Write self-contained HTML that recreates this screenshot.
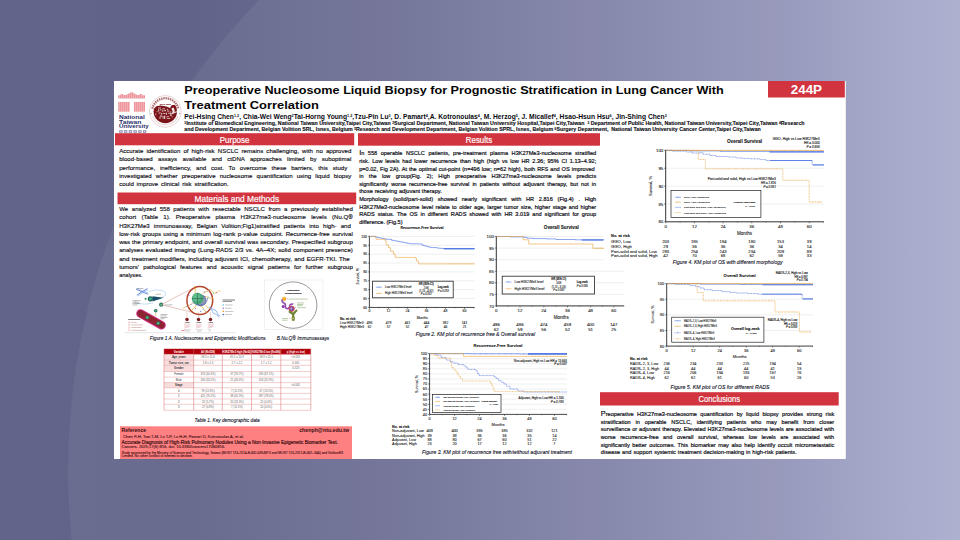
<!DOCTYPE html>
<html><head><meta charset="utf-8"><title>Poster 244P</title>
<style>
html,body{margin:0;padding:0;}
body{width:960px;height:540px;overflow:hidden;position:relative;font-family:"Liberation Sans", sans-serif;
background:linear-gradient(90deg,rgb(98,100,138) 0%,rgb(97,99,137) 20%,rgb(110,112,150) 41.7%,rgb(129,131,168) 62.5%,rgb(148,151,187) 83%,rgb(170,174,207) 100%);}
#bgsvg,#fg{position:absolute;left:0;top:0;}
#poster{position:absolute;left:114px;top:81px;width:732px;height:378px;background:#fff;
border-right:1.2px solid #ececec;box-sizing:border-box;}
svg text{font-family:"Liberation Sans", sans-serif;}
</style></head>
<body>
<svg id="bgsvg" width="960" height="540" viewBox="0 0 960 540">
<circle cx="742" cy="470" r="674" fill="#ffffff" fill-opacity="0.055"/>
</svg>
<div id="poster"></div>

<svg id="fg" width="960" height="540" viewBox="0 0 960 540">

<defs>
<pattern id="stripe" width="2" height="4" patternUnits="userSpaceOnUse">
<rect width="2" height="4" fill="#f2afb4"/><rect width="1" height="4" fill="#ec959c"/>
</pattern>
</defs>
<path d="M118.2 98.5V95.2H120.6V94H123.2V95H126L131.6 92L137.2 95H139.6V94H142.2V95.2H145V98.5Z" fill="url(#stripe)"/>
<rect x="118.2" y="101.9" width="11.5" height="9.8" fill="url(#stripe)"/>
<rect x="133.9" y="101.9" width="11.1" height="9.8" fill="url(#stripe)"/>
<text x="119.00" y="119.20" font-size="5.3" text-anchor="start" fill="#2a2d6b" font-weight="bold" textLength="25.80" lengthAdjust="spacingAndGlyphs" >National</text>
<text x="119.00" y="123.70" font-size="5.3" text-anchor="start" fill="#2a2d6b" font-weight="bold" textLength="22.40" lengthAdjust="spacingAndGlyphs" >Taiwan</text>
<text x="119.00" y="128.40" font-size="5.3" text-anchor="start" fill="#2a2d6b" font-weight="bold" textLength="29.60" lengthAdjust="spacingAndGlyphs" >University</text>
<rect x="119.20" y="130.2" width="3.4" height="2.6" fill="#2a2d6b" fill-opacity="0.55"/>
<rect x="120.10" y="130.9" width="1.6" height="1.2" fill="#fff" fill-opacity="0.6"/>
<rect x="123.95" y="130.2" width="3.4" height="2.6" fill="#2a2d6b" fill-opacity="0.55"/>
<rect x="124.85" y="130.9" width="1.6" height="1.2" fill="#fff" fill-opacity="0.6"/>
<rect x="128.70" y="130.2" width="3.4" height="2.6" fill="#2a2d6b" fill-opacity="0.55"/>
<rect x="129.60" y="130.9" width="1.6" height="1.2" fill="#fff" fill-opacity="0.6"/>
<rect x="133.45" y="130.2" width="3.4" height="2.6" fill="#2a2d6b" fill-opacity="0.55"/>
<rect x="134.35" y="130.9" width="1.6" height="1.2" fill="#fff" fill-opacity="0.6"/>
<rect x="138.20" y="130.2" width="3.4" height="2.6" fill="#2a2d6b" fill-opacity="0.55"/>
<rect x="139.10" y="130.9" width="1.6" height="1.2" fill="#fff" fill-opacity="0.6"/>
<rect x="142.95" y="130.2" width="3.4" height="2.6" fill="#2a2d6b" fill-opacity="0.55"/>
<rect x="143.85" y="130.9" width="1.6" height="1.2" fill="#fff" fill-opacity="0.6"/>
<circle cx="165.3" cy="111.4" r="15.9" fill="#fff" stroke="#7a1418" stroke-width="0.4" stroke-opacity="0.45"/>
<path d="M152.39 108.66A13.2 13.2 0 0 1 178.21 108.66" fill="none" stroke="#7a1418" stroke-width="2.3" stroke-dasharray="1.55 0.7" stroke-opacity="0.6"/>
<path d="M177.89 115.98A13.4 13.4 0 0 1 152.71 115.98" fill="none" stroke="#7a1418" stroke-width="1.1" stroke-dasharray="0.7 0.5" stroke-opacity="0.3"/>
<circle cx="151.0" cy="113.60000000000001" r="0.5" fill="#7a1418" fill-opacity="0.7"/><circle cx="179.60000000000002" cy="113.60000000000001" r="0.5" fill="#7a1418" fill-opacity="0.7"/>
<clipPath id="sealclip"><circle cx="165.3" cy="111.60000000000001" r="11.7"/></clipPath>
<g clip-path="url(#sealclip)"><path d="M150 109.5 L154.5 108.2 L156.2 106.2 L160.5 105.6 L166.5 106.4 L170 108 L171.6 105.2 L174.6 104.8 L177.5 106.5 L180 108 V126 H150Z" fill="#7a1418"/><rect x="158.0" y="107.6" width="3.0" height="0.8" fill="#fff" fill-opacity="0.85"/><rect x="158.2" y="109.2" width="1.0" height="2.4" fill="#fff" fill-opacity="0.8"/><rect x="160.0" y="109.4" width="1.6" height="1.0" fill="#fff" fill-opacity="0.8"/><rect x="162.4" y="108.4" width="2.6" height="0.9" fill="#fff" fill-opacity="0.85"/><rect x="162.2" y="110.2" width="1.2" height="1.6" fill="#fff" fill-opacity="0.75"/><rect x="164.4" y="110.0" width="1.6" height="1.2" fill="#fff" fill-opacity="0.8"/><rect x="166.8" y="108.8" width="1.4" height="1.0" fill="#fff" fill-opacity="0.7"/><rect x="167.0" y="110.6" width="2.4" height="0.9" fill="#fff" fill-opacity="0.8"/><rect x="158.6" y="112.6" width="2.0" height="0.9" fill="#fff" fill-opacity="0.8"/><rect x="161.2" y="112.8" width="1.0" height="2.0" fill="#fff" fill-opacity="0.75"/><rect x="163.2" y="113.0" width="2.2" height="0.9" fill="#fff" fill-opacity="0.8"/><rect x="166.0" y="112.6" width="1.0" height="2.2" fill="#fff" fill-opacity="0.7"/><rect x="168.0" y="112.8" width="2.6" height="0.8" fill="#fff" fill-opacity="0.8"/><rect x="170.4" y="111.2" width="0.9" height="1.6" fill="#fff" fill-opacity="0.7"/><rect x="159.8" y="115.6" width="2.4" height="1.0" fill="#fff" fill-opacity="0.85"/><rect x="159.4" y="117.2" width="1.2" height="1.6" fill="#fff" fill-opacity="0.75"/><rect x="162.6" y="116.0" width="0.9" height="2.8" fill="#fff" fill-opacity="0.8"/><rect x="164.2" y="115.6" width="1.0" height="3.4" fill="#fff" fill-opacity="0.9"/><rect x="166.4" y="116.4" width="2.8" height="0.8" fill="#fff" fill-opacity="0.8"/><rect x="166.8" y="118.0" width="3.4" height="0.8" fill="#fff" fill-opacity="0.75"/><rect x="169.8" y="115.0" width="2.2" height="0.8" fill="#fff" fill-opacity="0.7"/><rect x="171.4" y="116.6" width="1.8" height="0.7" fill="#fff" fill-opacity="0.6"/><rect x="155.4" y="113.2" width="0.8" height="2.2" fill="#fff" fill-opacity="0.6"/><rect x="156.6" y="111.0" width="0.9" height="1.2" fill="#fff" fill-opacity="0.6"/><path d="M171.2 108.6 Q173 110.6 172.4 113.4 L174.6 112.6 Q175 110 173.6 107.6Z" fill="#fff" fill-opacity="0.9"/><path d="M169.6 113.8 L177.6 110.8 L177.6 112 L170.4 115Z" fill="#fff" fill-opacity="0.7"/></g>
<text x="165.30" y="104.50" font-size="2.2" text-anchor="middle" fill="#7a1418" font-style="italic" stroke="#7a1418" stroke-width="0.11" fill-opacity="0.75">Since 1895</text>
<text x="184.30" y="93.90" font-size="11.8" text-anchor="start" fill="#050505" font-weight="bold" textLength="539.50" lengthAdjust="spacingAndGlyphs" >Preoperative Nucleosome Liquid Biopsy for Prognostic Stratification in Lung Cancer With</text>
<text x="184.30" y="108.90" font-size="11.8" text-anchor="start" fill="#050505" font-weight="bold" textLength="134.50" lengthAdjust="spacingAndGlyphs" >Treatment Correlation</text>
<text x="184.30" y="118.60" font-size="6.4" text-anchor="start" fill="#0a0a10" font-weight="bold" textLength="482.50" lengthAdjust="spacingAndGlyphs" >Pei-Hsing Chen<tspan dy="-1.8" font-size="3.6">1,2</tspan><tspan dy="1.8">, Chia-Wei Weng</tspan><tspan dy="-1.8" font-size="3.6">2</tspan><tspan dy="1.8">Tai-Horng Young</tspan><tspan dy="-1.8" font-size="3.6">1,2</tspan><tspan dy="1.8">,Tzu-Pin Lu</tspan><tspan dy="-1.8" font-size="3.6">3</tspan><tspan dy="1.8">, D. Pamart</tspan><tspan dy="-1.8" font-size="3.6">4</tspan><tspan dy="1.8">,A. Kotronoulas</tspan><tspan dy="-1.8" font-size="3.6">4</tspan><tspan dy="1.8">, M. Herzog</tspan><tspan dy="-1.8" font-size="3.6">5</tspan><tspan dy="1.8">, J. Micallef</tspan><tspan dy="-1.8" font-size="3.6">4</tspan><tspan dy="1.8">, Hsao-Hsun Hsu</tspan><tspan dy="-1.8" font-size="3.6">6</tspan><tspan dy="1.8">, Jin-Shing Chen</tspan><tspan dy="-1.8" font-size="3.6">2</tspan></text>
<text x="184.30" y="125.20" font-size="4.45" text-anchor="start" fill="#0a0a10" font-weight="bold" textLength="620.30" lengthAdjust="spacingAndGlyphs" stroke="#0a0a10" stroke-width="0.09" ><tspan dy="-1.2" font-size="2.8">1</tspan><tspan dy="1.2">Institute of Biomedical Engineering, National Taiwan University,Taipei City,Taiwan </tspan><tspan dy="-1.2" font-size="2.8">2</tspan><tspan dy="1.2">Surgical Department, National Taiwan University Hospital,Taipei City,Taiwan  </tspan><tspan dy="-1.2" font-size="2.8">3</tspan><tspan dy="1.2"> Department of Public Health, National Taiwan University,Taipei City,Taiwan </tspan><tspan dy="-1.2" font-size="2.8">4</tspan><tspan dy="1.2">Research</tspan></text>
<text x="184.30" y="131.30" font-size="4.45" text-anchor="start" fill="#0a0a10" font-weight="bold" textLength="576.50" lengthAdjust="spacingAndGlyphs" stroke="#0a0a10" stroke-width="0.09" >and Development Department, Belgian Volition SRL, Isnes, Belgium <tspan dy="-1.2" font-size="2.8">5</tspan><tspan dy="1.2">Research and Development Department, Belgian Volition SPRL, Isnes, Belgium </tspan><tspan dy="-1.2" font-size="2.8">6</tspan><tspan dy="1.2">Surgery Department,  National Taiwan University Cancer Center,Taipei City,Taiwan</tspan></text>
<rect x="768" y="81" width="76.8" height="16.5" fill="#d1343f"/>
<text x="806.40" y="94.30" font-size="13" text-anchor="middle" fill="#fff" font-weight="bold" textLength="31.20" lengthAdjust="spacingAndGlyphs" >244P</text>
<rect x="115" y="133.2" width="239.20" height="12.10" fill="#d1343f"/>
<text x="234.60" y="142.52" font-size="9.2" text-anchor="middle" fill="#fff" textLength="29.80" lengthAdjust="spacingAndGlyphs" stroke="#fff" stroke-width="0.18">Purpose</text>
<rect x="117.5" y="192.5" width="238.70" height="11.70" fill="#d1343f"/>
<text x="236.85" y="201.62" font-size="9.2" text-anchor="middle" fill="#fff" textLength="84.50" lengthAdjust="spacingAndGlyphs" stroke="#fff" stroke-width="0.18">Materials and Methods</text>
<rect x="358" y="133.2" width="242.00" height="12.50" fill="#d1343f"/>
<text x="479.00" y="142.72" font-size="9.2" text-anchor="middle" fill="#fff" textLength="26.40" lengthAdjust="spacingAndGlyphs" stroke="#fff" stroke-width="0.18">Results</text>
<rect x="600" y="392.2" width="238.70" height="13.30" fill="#d1343f"/>
<text x="719.35" y="402.19" font-size="9.4" text-anchor="middle" fill="#fff" textLength="41.50" lengthAdjust="spacingAndGlyphs" stroke="#fff" stroke-width="0.18">Conclusions</text>
<text x="119.20" y="152.98" font-size="6.1" fill="#0c0c14" stroke="#0c0c14" stroke-width="0.15" word-spacing="1.413" textLength="232.10" lengthAdjust="spacing">Accurate identification of high-risk NSCLC remains challenging, with no approved</text>
<text x="119.20" y="161.28" font-size="6.1" fill="#0c0c14" stroke="#0c0c14" stroke-width="0.15" word-spacing="3.623" textLength="232.10" lengthAdjust="spacing">blood-based assays available and ctDNA approaches limited by suboptimal</text>
<text x="119.20" y="169.58" font-size="6.1" fill="#0c0c14" stroke="#0c0c14" stroke-width="0.15" word-spacing="3.106" textLength="228.00" lengthAdjust="spacing">performance, inefficiency, and cost. To overcome these barriers, this study</text>
<text x="119.20" y="177.88" font-size="6.1" fill="#0c0c14" stroke="#0c0c14" stroke-width="0.15" word-spacing="2.395" textLength="232.10" lengthAdjust="spacing">investigated whether preoperative nucleosome quantification using liquid biopsy</text>
<text x="119.20" y="186.18" font-size="6.1" fill="#0c0c14" stroke="#0c0c14" stroke-width="0.15" word-spacing="1.102" textLength="109.50" lengthAdjust="spacing">could improve clinical risk stratification.</text>
<text x="119.20" y="210.98" font-size="6.1" fill="#0c0c14" stroke="#0c0c14" stroke-width="0.15" word-spacing="1.806" textLength="233.60" lengthAdjust="spacing">We analyzed 558 patients with resectable NSCLC from a previously established</text>
<text x="119.20" y="219.27" font-size="6.1" fill="#0c0c14" stroke="#0c0c14" stroke-width="0.15" word-spacing="3.571" textLength="233.60" lengthAdjust="spacing">cohort (Table 1). Preoperative plasma H3K27me3-nucleosome levels (Nu.Q®</text>
<text x="119.20" y="227.56" font-size="6.1" fill="#0c0c14" stroke="#0c0c14" stroke-width="0.15" word-spacing="2.405" textLength="231.70" lengthAdjust="spacing">H3K27Me3 immunoassay, Belgian Volition;Fig1)stratified patients into high- and</text>
<text x="119.20" y="235.85" font-size="6.1" fill="#0c0c14" stroke="#0c0c14" stroke-width="0.15" word-spacing="0.716" textLength="233.60" lengthAdjust="spacing">low-risk groups using a minimum log-rank p-value cutpoint. Recurrence-free survival</text>
<text x="119.20" y="244.14" font-size="6.1" fill="#0c0c14" stroke="#0c0c14" stroke-width="0.15" word-spacing="0.382" textLength="233.60" lengthAdjust="spacing">was the primary endpoint, and overall survival was secondary. Prespecified subgroup</text>
<text x="119.20" y="252.43" font-size="6.1" fill="#0c0c14" stroke="#0c0c14" stroke-width="0.15" word-spacing="0.637" textLength="233.60" lengthAdjust="spacing">analyses evaluated imaging (Lung-RADS 2/3 vs. 4A–4X; solid component presence)</text>
<text x="119.20" y="260.72" font-size="6.1" fill="#0c0c14" stroke="#0c0c14" stroke-width="0.15" word-spacing="0.610" textLength="230.40" lengthAdjust="spacing">and treatment modifiers, including adjuvant ICI, chemotherapy, and EGFR-TKI. The</text>
<text x="119.20" y="269.01" font-size="6.1" fill="#0c0c14" stroke="#0c0c14" stroke-width="0.15" word-spacing="2.584" textLength="233.60" lengthAdjust="spacing">tumors’ pathological features and acoustic signal patterns for further subgroup</text>
<text x="119.20" y="277.30" font-size="6.1" fill="#0c0c14" stroke="#0c0c14" stroke-width="0.15" textLength="23.30" lengthAdjust="spacingAndGlyphs">analyses.</text>
<text x="359.20" y="155.45" font-size="5.6" fill="#0c0c14" stroke="#0c0c14" stroke-width="0.19" word-spacing="1.960" textLength="237.00" lengthAdjust="spacing"><tspan font-size="7.4">I</tspan>n 558 operable NSCLC patients, pre-treatment plasma H3K27Me3-nucleosome stratified</text>
<text x="359.20" y="163.05" font-size="5.6" fill="#0c0c14" stroke="#0c0c14" stroke-width="0.19" word-spacing="1.170" textLength="237.00" lengthAdjust="spacing">risk. Low levels had lower recurrence than high (high vs low HR 2.36; 95% CI 1.13–4.92;</text>
<text x="359.20" y="170.65" font-size="5.6" fill="#0c0c14" stroke="#0c0c14" stroke-width="0.19" word-spacing="0.415" textLength="235.50" lengthAdjust="spacing">p=0.02, Fig 2A). At the optimal cut-point (n=496 low; n=62 high), both RFS and OS improved</text>
<text x="359.20" y="178.25" font-size="5.6" fill="#0c0c14" stroke="#0c0c14" stroke-width="0.19" word-spacing="3.749" textLength="237.00" lengthAdjust="spacing">in the low group(Fig. 2); High preoperative H3K27me3-nucleosome levels predicts</text>
<text x="359.20" y="185.85" font-size="5.6" fill="#0c0c14" stroke="#0c0c14" stroke-width="0.19" word-spacing="1.464" textLength="237.00" lengthAdjust="spacing">significantly worse recurrence-free survival in patients without adjuvant therapy, but not in</text>
<text x="359.20" y="193.45" font-size="5.6" fill="#0c0c14" stroke="#0c0c14" stroke-width="0.19" word-spacing="0.243" textLength="82.50" lengthAdjust="spacing">those receiving adjuvant therapy.</text>
<text x="359.20" y="201.05" font-size="5.6" fill="#0c0c14" stroke="#0c0c14" stroke-width="0.19" word-spacing="3.157" textLength="237.00" lengthAdjust="spacing">Morphology (solid/part-solid) showed nearly significant with HR 2.816 (Fig.4) . High</text>
<text x="359.20" y="208.65" font-size="5.6" fill="#0c0c14" stroke="#0c0c14" stroke-width="0.19" word-spacing="0.865" textLength="237.00" lengthAdjust="spacing">H3K27Me3-nucleosome level relate to older age, larger tumor size, higher stage and higher</text>
<text x="359.20" y="216.25" font-size="5.6" fill="#0c0c14" stroke="#0c0c14" stroke-width="0.19" word-spacing="1.357" textLength="237.00" lengthAdjust="spacing">RADS status. The OS in different RADS showed with HR 3.019 and significant for group</text>
<text x="359.20" y="223.85" font-size="5.6" fill="#0c0c14" stroke="#0c0c14" stroke-width="0.19" textLength="43.30" lengthAdjust="spacingAndGlyphs">difference. (Fig.5)</text>
<text x="600.80" y="416.15" font-size="5.6" fill="#0c0c14" stroke="#0c0c14" stroke-width="0.19" word-spacing="1.937" textLength="233.40" lengthAdjust="spacing"><tspan font-size="7.4">P</tspan>reoperative H3K27me3-nucleosome quantification by liquid biopsy provides strong risk</text>
<text x="600.80" y="423.75" font-size="5.6" fill="#0c0c14" stroke="#0c0c14" stroke-width="0.19" word-spacing="3.263" textLength="233.40" lengthAdjust="spacing">stratification in operable NSCLC, identifying patients who may benefit from closer</text>
<text x="600.80" y="431.35" font-size="5.6" fill="#0c0c14" stroke="#0c0c14" stroke-width="0.19" word-spacing="0.316" textLength="233.40" lengthAdjust="spacing">surveillance or adjuvant therapy. Elevated H3K27me3-nucleosome levels are associated with</text>
<text x="600.80" y="438.95" font-size="5.6" fill="#0c0c14" stroke="#0c0c14" stroke-width="0.19" word-spacing="2.953" textLength="233.40" lengthAdjust="spacing">worse recurrence-free and overall survival, whereas low levels are associated with</text>
<text x="600.80" y="446.55" font-size="5.6" fill="#0c0c14" stroke="#0c0c14" stroke-width="0.19" word-spacing="1.034" textLength="233.40" lengthAdjust="spacing">significantly better outcomes. This biomarker may also help identify occult micrometastatic</text>
<text x="600.80" y="454.15" font-size="5.6" fill="#0c0c14" stroke="#0c0c14" stroke-width="0.19" word-spacing="0.442" textLength="195.90" lengthAdjust="spacing">disease and support systemic treatment decision-making in high-risk patients.</text>
<rect x="120" y="426.3" width="232" height="32.7" fill="#fe8080"/>
<text x="121.60" y="432.30" font-size="5.6" text-anchor="start" fill="#3a0d12" font-weight="bold" textLength="24.50" lengthAdjust="spacingAndGlyphs" >Reference</text>
<text x="349.20" y="432.30" font-size="5.6" text-anchor="end" fill="#3a0d12" font-weight="bold" textLength="50.00" lengthAdjust="spacingAndGlyphs" >chenph@ntu.edu.tw</text>
<text x="123.20" y="437.70" font-size="4.4" text-anchor="start" fill="#3a0d12" textLength="120.50" lengthAdjust="spacingAndGlyphs" stroke="#3a0d12" stroke-width="0.09" >Chen P-H, Tsai T-M, Lu T-P, Lu H-H, Pamart D, Kotronoulas A, et al.</text>
<text x="121.60" y="443.50" font-size="4.9" text-anchor="start" fill="#3a0d12" textLength="216.20" lengthAdjust="spacingAndGlyphs" stroke="#3a0d12" stroke-width="0.17">Accurate Diagnosis of High-Risk Pulmonary Nodules Using a Non-Invasive Epigenetic Biomarker Test.</text>
<text x="121.60" y="448.20" font-size="4.4" text-anchor="start" fill="#3a0d12" textLength="103.50" lengthAdjust="spacingAndGlyphs" stroke="#3a0d12" stroke-width="0.09" >Cancers. 2025;17(6):916. doi: 10.3390/cancers17060916.</text>
<text x="121.60" y="453.70" font-size="3.5" text-anchor="start" fill="#3a0d12" textLength="221.70" lengthAdjust="spacingAndGlyphs" stroke="#3a0d12" stroke-width="0.09" >Study sponsored by the Ministry of Science and Technology, Taiwan (MOST 113-2314-B-002-038-MY3 and MOST 113-2321-B-002- 044) and VolitionRX</text>
<text x="121.60" y="457.40" font-size="3.5" text-anchor="start" fill="#3a0d12" textLength="71.00" lengthAdjust="spacingAndGlyphs" stroke="#3a0d12" stroke-width="0.09" >Limited. No other conflict of interest to declare.</text>
<text x="149.80" y="339.50" font-size="5.4" text-anchor="start" fill="#0a0a1c" font-style="italic" textLength="115.90" lengthAdjust="spacingAndGlyphs" stroke="#0a0a1c" stroke-width="0.1">Figure 1 A. Nucleosomes and Epigenetic Modifications</text>
<text x="276.70" y="339.50" font-size="5.4" text-anchor="start" fill="#0a0a1c" font-style="italic" textLength="52.50" lengthAdjust="spacingAndGlyphs" stroke="#0a0a1c" stroke-width="0.1">B.Nu.Q® Immunoassays</text>
<text x="194.60" y="421.80" font-size="5.4" text-anchor="start" fill="#0a0a1c" font-style="italic" textLength="65.10" lengthAdjust="spacingAndGlyphs" stroke="#0a0a1c" stroke-width="0.1">Table 1. Key demographic data</text>
<text x="415.80" y="336.30" font-size="5.2" text-anchor="start" fill="#0a0a1c" font-style="italic" textLength="119.20" lengthAdjust="spacingAndGlyphs" stroke="#0a0a1c" stroke-width="0.1">Figure 2. KM plot of recurrence free  &amp; Overall survival</text>
<text x="422.00" y="454.30" font-size="5.2" text-anchor="start" fill="#0a0a1c" font-style="italic" textLength="150.00" lengthAdjust="spacingAndGlyphs" stroke="#0a0a1c" stroke-width="0.1">Figure 3. KM plot of recurrence free with/without adjuvant treatment</text>
<text x="672.80" y="264.20" font-size="5.2" text-anchor="start" fill="#0a0a1c" font-style="italic" textLength="109.70" lengthAdjust="spacingAndGlyphs" stroke="#0a0a1c" stroke-width="0.1">Figure 4. KM plot of OS with different morphology</text>
<text x="670.50" y="389.20" font-size="5.2" text-anchor="start" fill="#0a0a1c" font-style="italic" textLength="99.00" lengthAdjust="spacingAndGlyphs" stroke="#0a0a1c" stroke-width="0.1">Figure 5. KM plot of OS for different RADS</text>
<rect x="164.0" y="348.8" width="146.8" height="5.6" fill="#b0000c"/>
<rect x="164.0" y="354.4" width="29.7" height="5.7" fill="#f8dede"/>
<rect x="164.0" y="360.1" width="29.7" height="5.2" fill="#f8dede"/>
<rect x="164.0" y="365.3" width="29.7" height="6.2" fill="#f8dede"/>
<rect x="164.0" y="382.6" width="29.7" height="5.2" fill="#f8dede"/>
<line x1="164.0" y1="354.4" x2="310.8" y2="354.4" stroke="#e59a9a" stroke-width="0.5"/>
<line x1="164.0" y1="360.1" x2="310.8" y2="360.1" stroke="#e59a9a" stroke-width="0.5"/>
<line x1="164.0" y1="365.3" x2="310.8" y2="365.3" stroke="#e59a9a" stroke-width="0.5"/>
<line x1="164.0" y1="371.5" x2="310.8" y2="371.5" stroke="#e59a9a" stroke-width="0.5"/>
<line x1="164.0" y1="377.1" x2="310.8" y2="377.1" stroke="#e59a9a" stroke-width="0.5"/>
<line x1="164.0" y1="382.6" x2="310.8" y2="382.6" stroke="#e59a9a" stroke-width="0.5"/>
<line x1="164.0" y1="387.8" x2="310.8" y2="387.8" stroke="#e59a9a" stroke-width="0.5"/>
<line x1="164.0" y1="393.4" x2="310.8" y2="393.4" stroke="#e59a9a" stroke-width="0.5"/>
<line x1="164.0" y1="399.0" x2="310.8" y2="399.0" stroke="#e59a9a" stroke-width="0.5"/>
<line x1="164.0" y1="404.3" x2="310.8" y2="404.3" stroke="#e59a9a" stroke-width="0.5"/>
<line x1="164.0" y1="410.3" x2="310.8" y2="410.3" stroke="#e59a9a" stroke-width="0.5"/>
<line x1="164.0" y1="348.8" x2="164.0" y2="410.3" stroke="#d86a6a" stroke-width="0.5"/>
<line x1="193.7" y1="348.8" x2="193.7" y2="410.3" stroke="#d86a6a" stroke-width="0.5"/>
<line x1="222.3" y1="348.8" x2="222.3" y2="410.3" stroke="#d86a6a" stroke-width="0.5"/>
<line x1="251.5" y1="348.8" x2="251.5" y2="410.3" stroke="#d86a6a" stroke-width="0.5"/>
<line x1="280.8" y1="348.8" x2="280.8" y2="410.3" stroke="#d86a6a" stroke-width="0.5"/>
<line x1="310.8" y1="348.8" x2="310.8" y2="410.3" stroke="#d86a6a" stroke-width="0.5"/>
<text x="178.85" y="352.55" font-size="2.6" text-anchor="middle" fill="#fff" font-weight="bold" textLength="10.07" lengthAdjust="spacingAndGlyphs" stroke="none">Variable</text>
<text x="208.00" y="352.55" font-size="2.6" text-anchor="middle" fill="#fff" font-weight="bold" textLength="14.08" lengthAdjust="spacingAndGlyphs" stroke="none">All (N=558)</text>
<text x="236.90" y="352.55" font-size="2.6" text-anchor="middle" fill="#fff" font-weight="bold" textLength="28.70" lengthAdjust="spacingAndGlyphs" stroke="none">H3K27Me3 high (N=62)</text>
<text x="266.15" y="352.55" font-size="2.6" text-anchor="middle" fill="#fff" font-weight="bold" textLength="28.70" lengthAdjust="spacingAndGlyphs" stroke="none">H3K27Me3 low (N=496)</text>
<text x="295.80" y="352.55" font-size="2.6" text-anchor="middle" fill="#fff" font-weight="bold" textLength="18.05" lengthAdjust="spacingAndGlyphs" stroke="none">p (high vs low)</text>
<text x="178.85" y="358.20" font-size="2.75" text-anchor="middle" fill="#333" font-weight="bold" stroke="none">Age, years</text>
<text x="208.00" y="358.20" font-size="2.75" text-anchor="middle" fill="#666" stroke="none">58.3 ± 11.6</text>
<text x="236.90" y="358.20" font-size="2.75" text-anchor="middle" fill="#666" stroke="none">65.5 ± 10.9</text>
<text x="266.15" y="358.20" font-size="2.75" text-anchor="middle" fill="#666" stroke="none">58.9 ± 11.0</text>
<text x="295.80" y="358.20" font-size="2.75" text-anchor="middle" fill="#666" stroke="none">&lt;0.001</text>
<text x="178.85" y="363.65" font-size="2.75" text-anchor="middle" fill="#333" font-weight="bold" stroke="none">Tumor size, cm</text>
<text x="208.00" y="363.65" font-size="2.75" text-anchor="middle" fill="#666" stroke="none">1.8 ± 1.3</text>
<text x="236.90" y="363.65" font-size="2.75" text-anchor="middle" fill="#666" stroke="none">2.7 ± 2.2</text>
<text x="266.15" y="363.65" font-size="2.75" text-anchor="middle" fill="#666" stroke="none">1.7 ± 1.2</text>
<text x="295.80" y="363.65" font-size="2.75" text-anchor="middle" fill="#666" stroke="none">0.005</text>
<text x="178.85" y="369.35" font-size="2.75" text-anchor="middle" fill="#333" font-weight="bold" stroke="none">Gender</text>
<text x="295.80" y="369.35" font-size="2.75" text-anchor="middle" fill="#666" stroke="none">0.323</text>
<text x="178.85" y="375.25" font-size="2.75" text-anchor="middle" fill="#333" stroke="none">Female</text>
<text x="208.00" y="375.25" font-size="2.75" text-anchor="middle" fill="#666" stroke="none">374 (60.3%)</text>
<text x="236.90" y="375.25" font-size="2.75" text-anchor="middle" fill="#666" stroke="none">37 (59.7%)</text>
<text x="266.15" y="375.25" font-size="2.75" text-anchor="middle" fill="#666" stroke="none">333 (67.1%)</text>
<text x="178.85" y="380.80" font-size="2.75" text-anchor="middle" fill="#333" stroke="none">Male</text>
<text x="208.00" y="380.80" font-size="2.75" text-anchor="middle" fill="#666" stroke="none">206 (33.2%)</text>
<text x="236.90" y="380.80" font-size="2.75" text-anchor="middle" fill="#666" stroke="none">25 (40.3%)</text>
<text x="266.15" y="380.80" font-size="2.75" text-anchor="middle" fill="#666" stroke="none">163 (32.9%)</text>
<text x="178.85" y="386.15" font-size="2.75" text-anchor="middle" fill="#333" font-weight="bold" stroke="none">Stage</text>
<text x="295.80" y="386.15" font-size="2.75" text-anchor="middle" fill="#666" stroke="none">&lt;0.001</text>
<text x="178.85" y="391.55" font-size="2.75" text-anchor="middle" fill="#333" stroke="none">0</text>
<text x="208.00" y="391.55" font-size="2.75" text-anchor="middle" fill="#666" stroke="none">78 (12.6%)</text>
<text x="236.90" y="391.55" font-size="2.75" text-anchor="middle" fill="#666" stroke="none">7 (11.3%)</text>
<text x="266.15" y="391.55" font-size="2.75" text-anchor="middle" fill="#666" stroke="none">67 (13.5%)</text>
<text x="178.85" y="397.15" font-size="2.75" text-anchor="middle" fill="#333" stroke="none">1</text>
<text x="208.00" y="397.15" font-size="2.75" text-anchor="middle" fill="#666" stroke="none">425 (76.2%)</text>
<text x="236.90" y="397.15" font-size="2.75" text-anchor="middle" fill="#666" stroke="none">38 (61.3%)</text>
<text x="266.15" y="397.15" font-size="2.75" text-anchor="middle" fill="#666" stroke="none">387 (78.0%)</text>
<text x="178.85" y="402.60" font-size="2.75" text-anchor="middle" fill="#333" stroke="none">2</text>
<text x="208.00" y="402.60" font-size="2.75" text-anchor="middle" fill="#666" stroke="none">32 (5.7%)</text>
<text x="236.90" y="402.60" font-size="2.75" text-anchor="middle" fill="#666" stroke="none">20 (32.3%)</text>
<text x="266.15" y="402.60" font-size="2.75" text-anchor="middle" fill="#666" stroke="none">22 (4.4%)</text>
<text x="178.85" y="408.25" font-size="2.75" text-anchor="middle" fill="#333" stroke="none">3</text>
<text x="208.00" y="408.25" font-size="2.75" text-anchor="middle" fill="#666" stroke="none">27 (4.8%)</text>
<text x="236.90" y="408.25" font-size="2.75" text-anchor="middle" fill="#666" stroke="none">7 (11.3%)</text>
<text x="266.15" y="408.25" font-size="2.75" text-anchor="middle" fill="#666" stroke="none">20 (4.0%)</text>
<g><line x1="124.8" y1="332.7" x2="235.5" y2="332.7" stroke="#d8d8d8" stroke-width="0.6"/><path d="M136.5 289.3 Q141.5 291.8 147.5 294 M137.2 295 Q141.5 292 147 288.8" stroke="#5c86dc" stroke-width="1.0" fill="none" stroke-linecap="round"/><path d="M137.5 288.6 Q142 291 148 293 M138.2 295.8 Q142.5 292.8 147.8 289.8" stroke="#8fb0ea" stroke-width="0.6" fill="none" stroke-linecap="round"/><path d="M149 291.5 Q156 288.5 162 290.5 Q168 292.5 164 296.5 Q159 300.5 152 299.5 M153 303 Q146 305 137 303.5 Q134 303 136 300.5" stroke="#9cc6ea" stroke-width="0.6" fill="none"/><path d="M152.5 296.3 L163.5 297.8 L152.5 301.4Z" fill="#17506a"/><circle cx="150.4" cy="298.8" r="2.6" fill="#1d5d5f"/><circle cx="150.4" cy="298.8" r="1.5" fill="#3fae7a"/><circle cx="145.6" cy="298.8" r="1.1" fill="#3c9a6c"/><circle cx="161.2" cy="304.7" r="2.1" fill="#2b6a5e"/><circle cx="161.2" cy="304.7" r="1.2" fill="#49b583"/><circle cx="155.7" cy="310.8" r="1.8" fill="#2b6a5e"/><circle cx="155.7" cy="310.8" r="1.0" fill="#49b583"/><path d="M161.2 304.7 L192.6 288.4 M161.2 304.7 L191.8 312.2" stroke="#cf8a78" stroke-width="0.5" fill="none"/><path d="M155.7 312.6 L155.7 316" stroke="#e2a03a" stroke-width="0.5"/><path d="M140.5 313.5 L161.5 325.2" stroke="#d6338a" stroke-width="8.6" stroke-linecap="round" fill="none"/><path d="M140.5 313.5 L161.5 325.2" stroke="#8e2433" stroke-width="6.6" stroke-linecap="round" fill="none"/><circle cx="147.3" cy="317.4" r="1.9" fill="#2e7d62"/><circle cx="147.3" cy="317.4" r="1.0" fill="#5cc28f"/><circle cx="158.2" cy="323.2" r="1.9" fill="#2e7d62"/><circle cx="158.2" cy="323.2" r="1.0" fill="#5cc28f"/><rect x="136.5" y="288.2" width="7" height="0.7" fill="#555" fill-opacity="0.55"/><rect x="155.5" y="293.8" width="5.5" height="0.7" fill="#555" fill-opacity="0.55"/><rect x="164.5" y="304.6" width="8" height="0.7" fill="#555" fill-opacity="0.55"/><rect x="132.5" y="300.4" width="8" height="0.7" fill="#555" fill-opacity="0.55"/><rect x="132.5" y="301.8" width="6.5" height="0.7" fill="#555" fill-opacity="0.55"/><rect x="132.5" y="303.2" width="7.5" height="0.7" fill="#555" fill-opacity="0.55"/><rect x="132.5" y="304.6" width="5" height="0.7" fill="#555" fill-opacity="0.55"/><rect x="160.5" y="314.2" width="7" height="0.7" fill="#555" fill-opacity="0.55"/><rect x="160.5" y="315.6" width="6" height="0.7" fill="#555" fill-opacity="0.55"/><rect x="160.5" y="317.0" width="7" height="0.7" fill="#555" fill-opacity="0.55"/><rect x="160.5" y="318.4" width="4" height="0.7" fill="#555" fill-opacity="0.55"/><rect x="128.2" y="319.2" width="12" height="0.8" fill="#222" fill-opacity="0.75"/><circle cx="129.2" cy="322.30" r="0.8" fill="none" stroke="#e48a8a" stroke-width="0.35"/><rect x="131.2" y="321.95" width="5.5" height="0.65" fill="#a05050" fill-opacity="0.5"/><circle cx="129.2" cy="324.95" r="0.8" fill="none" stroke="#e48a8a" stroke-width="0.35"/><rect x="131.2" y="324.60" width="12" height="0.65" fill="#a05050" fill-opacity="0.5"/><circle cx="129.2" cy="327.60" r="0.8" fill="none" stroke="#e48a8a" stroke-width="0.35"/><rect x="131.2" y="327.25" width="10.5" height="0.65" fill="#a05050" fill-opacity="0.5"/><circle cx="129.2" cy="330.25" r="0.8" fill="none" stroke="#e48a8a" stroke-width="0.35"/><rect x="131.2" y="329.90" width="15" height="0.65" fill="#a05050" fill-opacity="0.5"/><ellipse cx="199.8" cy="300.5" rx="12.9" ry="14.0" fill="#fff" stroke="#b4452c" stroke-width="1.5"/><path d="M195.2 294 q-0.6 -2.4 0.4 -3.6 q0.8 -1.4 -0.6 -2.6 q-0.8 -0.6 -0.8 -1.4 M202.6 293.6 q1.4 -2.2 3.4 -2.0 q1.8 0.4 2.6 -1.2 q0.8 -1.2 2.2 -0.6 q1.4 0.8 2.2 2 q1.2 1.6 3 1 q1.4 -0.6 2.2 -1.6 q1 -0.8 1.8 -0.2 M204.6 296.8 q2.2 -0.8 3.4 0.6 q1 1.4 2.8 0.8 q1.8 -0.8 2.6 0.4 M192.4 303.6 q-2 0.4 -3 1.8 q-0.8 1.2 -2.4 1 q-1.6 -0.2 -2.2 1 q-0.6 1 -1.4 0.8 M199.4 304.6 q0.6 2 2.4 2.4 q1.8 0.4 2 2.2 q0.4 1.8 2 2.2 q1.2 0.4 1.6 1.4 M205.6 305.4 q2 0.8 2.6 2.6 M196.2 305.2 q-0.8 2.4 -2.4 3 q-1.6 0.4 -2 2" stroke="#ecb23c" stroke-width="0.75" fill="none" stroke-linecap="round"/><circle cx="204.6" cy="292.0" r="0.55" fill="#5a74d0"/><circle cx="209.0" cy="290.2" r="0.55" fill="#8a7fd6"/><circle cx="213.4" cy="293.4" r="0.55" fill="#5fc3d6"/><circle cx="216.6" cy="292.6" r="0.55" fill="#c05a78"/><circle cx="187.0" cy="306.6" r="0.55" fill="#5a74d0"/><circle cx="191.0" cy="304.4" r="0.55" fill="#8a7fd6"/><circle cx="203.2" cy="309.2" r="0.55" fill="#5fc3d6"/><circle cx="205.6" cy="311.8" r="0.55" fill="#8a7fd6"/><circle cx="195.6" cy="308.6" r="0.55" fill="#c05a78"/><circle cx="194.8" cy="289.6" r="0.55" fill="#f4d060"/><circle cx="208.4" cy="297.0" r="0.55" fill="#5fc3d6"/><circle cx="189.0" cy="295.4" r="0.55" fill="#8a7fd6"/><circle cx="200.8" cy="311.4" r="0.55" fill="#5a74d0"/><circle cx="200.6" cy="300.4" r="5.9" fill="#5d6f9e"/><circle cx="201.0" cy="300.8" r="4.8" fill="#8e9ab6"/><circle cx="197.6" cy="298.6" r="5.8" fill="#4aa77a"/><circle cx="196.6" cy="297.4" r="3.9" fill="#66c494" fill-opacity="0.75"/><path d="M197.6 292.8 V304.4 M191.8 298.6 H203.4" stroke="#1f5a44" stroke-width="0.55"/><path d="M192.4 302.2 Q197.6 306.6 203.8 304.2 Q207.8 302 207.6 297.6" stroke="#4a5fa8" stroke-width="0.6" fill="none"/><path d="M208.6 307.4 q3.4 0.6 3.6 3.6 q0.2 2.6 3.4 3.2 q2.6 0.6 3.2 3.2 M210.4 306.2 q0.4 3 3.6 3.6 q2.8 0.4 3.2 3.2 q0.4 2.4 3 3" stroke="#86a8e4" stroke-width="0.8" fill="none"/><line x1="187.0" y1="312.5" x2="187.0" y2="318.2" stroke="#c9685a" stroke-width="0.45" stroke-dasharray="0.9 0.5"/><line x1="184.8" y1="322" x2="184.8" y2="330" stroke="#e8a79c" stroke-width="0.4"/><circle cx="187.0" cy="319.6" r="1.75" fill="#7c1d1d"/><rect x="185.4" y="322.2" width="4.2" height="0.8" fill="#333" fill-opacity="0.7"/><rect x="185.4" y="323.80" width="5.2" height="0.55" fill="#c78" fill-opacity="0.55"/><rect x="185.4" y="324.95" width="4.4" height="0.55" fill="#c78" fill-opacity="0.55"/><rect x="185.4" y="326.10" width="5.0" height="0.55" fill="#c78" fill-opacity="0.55"/><rect x="185.4" y="327.25" width="3.2" height="0.55" fill="#c78" fill-opacity="0.55"/><rect x="185.4" y="329.6" width="5.5" height="0.6" fill="#777" fill-opacity="0.6"/><rect x="185.4" y="330.8" width="4.0" height="0.6" fill="#777" fill-opacity="0.5"/><line x1="198.5" y1="312.5" x2="198.5" y2="318.2" stroke="#c9685a" stroke-width="0.45" stroke-dasharray="0.9 0.5"/><line x1="196.3" y1="322" x2="196.3" y2="330" stroke="#e8a79c" stroke-width="0.4"/><circle cx="198.5" cy="319.6" r="1.75" fill="#7c1d1d"/><rect x="196.9" y="322.2" width="4.2" height="0.8" fill="#333" fill-opacity="0.7"/><rect x="196.9" y="323.80" width="5.2" height="0.55" fill="#c78" fill-opacity="0.55"/><rect x="196.9" y="324.95" width="4.4" height="0.55" fill="#c78" fill-opacity="0.55"/><rect x="196.9" y="326.10" width="5.0" height="0.55" fill="#c78" fill-opacity="0.55"/><rect x="196.9" y="327.25" width="3.2" height="0.55" fill="#c78" fill-opacity="0.55"/><rect x="196.9" y="329.6" width="5.5" height="0.6" fill="#777" fill-opacity="0.6"/><rect x="196.9" y="330.8" width="4.0" height="0.6" fill="#777" fill-opacity="0.5"/><line x1="210.5" y1="312.5" x2="210.5" y2="318.2" stroke="#c9685a" stroke-width="0.45" stroke-dasharray="0.9 0.5"/><line x1="208.3" y1="322" x2="208.3" y2="330" stroke="#e8a79c" stroke-width="0.4"/><circle cx="210.5" cy="319.6" r="1.75" fill="#7c1d1d"/><rect x="208.9" y="322.2" width="4.2" height="0.8" fill="#333" fill-opacity="0.7"/><rect x="208.9" y="323.80" width="5.2" height="0.55" fill="#c78" fill-opacity="0.55"/><rect x="208.9" y="324.95" width="4.4" height="0.55" fill="#c78" fill-opacity="0.55"/><rect x="208.9" y="326.10" width="5.0" height="0.55" fill="#c78" fill-opacity="0.55"/><rect x="208.9" y="327.25" width="3.2" height="0.55" fill="#c78" fill-opacity="0.55"/><rect x="208.9" y="329.6" width="2.2" height="0.6" fill="#777" fill-opacity="0.6"/><rect x="208.9" y="330.8" width="1.2" height="0.6" fill="#777" fill-opacity="0.5"/><rect x="181.2" y="330.4" width="3.6" height="0.6" fill="#e0404a"/><rect x="222.6" y="299.6" width="12.4" height="0.8" fill="#222" fill-opacity="0.75"/><rect x="222.6" y="301.0" width="9.6" height="0.8" fill="#222" fill-opacity="0.6"/><circle cx="223.2" cy="305.00" r="0.8" fill="#55c3d8"/><rect x="225" y="304.65" width="7.5" height="0.65" fill="#666" fill-opacity="0.55"/><circle cx="223.2" cy="308.20" r="0.8" fill="#b06fc8"/><rect x="225" y="307.85" width="6.6" height="0.65" fill="#666" fill-opacity="0.55"/><circle cx="223.2" cy="311.40" r="0.8" fill="#f09a2c"/><rect x="225" y="311.05" width="8.4" height="0.65" fill="#666" fill-opacity="0.55"/><circle cx="223.2" cy="314.60" r="0.8" fill="#3d62c4"/><rect x="225" y="314.25" width="7.0" height="0.65" fill="#666" fill-opacity="0.55"/></g>
<g><rect x="264.6" y="280" width="58.3" height="49.4" fill="#fff" stroke="#e4e4e4" stroke-width="0.5"/><ellipse cx="293.1" cy="305.1" rx="23.8" ry="23.2" fill="#fff" stroke="#44444e" stroke-width="0.55"/></g>
<text x="293.30" y="291.30" font-size="2.3" text-anchor="middle" fill="#222" font-weight="bold" stroke="#222" stroke-width="0.11" >Automated</text>
<text x="293.30" y="293.90" font-size="2.3" text-anchor="middle" fill="#222" font-weight="bold" stroke="#222" stroke-width="0.11" >Immunoassays</text>
<g><path d="M282.6 299.2 q-1.2 2.2 0.8 3.6 q2.4 0.8 2.0 3.4 q-0.2 2.6 2.4 2.4 q2.2 -0.4 2.0 -2.8 q0.2 -2 2.6 -1.6" stroke="#9450b4" stroke-width="1.7" fill="none" stroke-linecap="round"/><circle cx="284.2" cy="298.8" r="2.1" fill="#f2a21e"/><circle cx="283.8" cy="298.3" r="1.0" fill="#ffd24a"/><circle cx="283.2" cy="306.6" r="1.5" fill="#8a3fa8"/><circle cx="291.6" cy="308.8" r="2.7" fill="#7c4fb0" stroke="#d8452e" stroke-width="0.9"/><circle cx="291.2" cy="308.4" r="1.0" fill="#c9a0e0"/><path d="M293.2 317.6 V314 M293.2 314 L289.6 311.8 M293.2 314 L296.4 310.6" stroke="#6f7f2e" stroke-width="2.1" fill="none" stroke-linecap="round"/><ellipse cx="293.3" cy="318.6" rx="1.7" ry="2.6" fill="#7f8f38"/><circle cx="293.3" cy="318.4" r="0.7" fill="#c8d28a"/><circle cx="287.3" cy="298.8" r="0.45" fill="#c03fa0"/><circle cx="294.0" cy="303.6" r="0.45" fill="#c03fa0"/><circle cx="295.4" cy="307.4" r="0.45" fill="#c03fa0"/><circle cx="289.8" cy="318.4" r="0.45" fill="#c03fa0"/><rect x="288.6" y="298.7" width="19" height="0.7" fill="#5f8f3a" fill-opacity="0.6"/><rect x="297.0" y="302.6" width="7" height="0.7" fill="#5f8f3a" fill-opacity="0.6"/><rect x="297.0" y="304.0" width="6.2" height="0.7" fill="#5f8f3a" fill-opacity="0.6"/><rect x="297.0" y="305.4" width="5.4" height="0.7" fill="#5f8f3a" fill-opacity="0.6"/><rect x="297.4" y="307.4" width="8.6" height="0.7" fill="#5f8f3a" fill-opacity="0.6"/><rect x="282.0" y="318.2" width="6" height="0.7" fill="#5f8f3a" fill-opacity="0.6"/><rect x="282.0" y="319.8" width="5.6" height="0.7" fill="#5f8f3a" fill-opacity="0.6"/></g>
<text x="422.00" y="229.10" font-size="3.7" text-anchor="middle" fill="#111" font-weight="bold" textLength="43.00" lengthAdjust="spacingAndGlyphs" stroke="#111" stroke-width="0.09" >Recurrence-Free Survival</text>
<line x1="369.4" y1="236.40" x2="474.60" y2="236.40" stroke="#dedede" stroke-width="0.5"/>
<line x1="369.4" y1="245.28" x2="474.60" y2="245.28" stroke="#dedede" stroke-width="0.5"/>
<line x1="369.4" y1="254.16" x2="474.60" y2="254.16" stroke="#dedede" stroke-width="0.5"/>
<line x1="369.4" y1="263.04" x2="474.60" y2="263.04" stroke="#dedede" stroke-width="0.5"/>
<line x1="369.4" y1="271.92" x2="474.60" y2="271.92" stroke="#dedede" stroke-width="0.5"/>
<line x1="369.4" y1="280.80" x2="474.60" y2="280.80" stroke="#dedede" stroke-width="0.5"/>
<line x1="369.4" y1="289.68" x2="474.60" y2="289.68" stroke="#dedede" stroke-width="0.5"/>
<line x1="369.4" y1="298.56" x2="474.60" y2="298.56" stroke="#dedede" stroke-width="0.5"/>
<line x1="367.80" y1="236.40" x2="369.4" y2="236.40" stroke="#1a1a1a" stroke-width="0.5"/>
<text x="367.00" y="237.62" font-size="3.4" text-anchor="end" fill="#222" stroke="#222" stroke-width="0.09" >100</text>
<line x1="367.80" y1="245.28" x2="369.4" y2="245.28" stroke="#1a1a1a" stroke-width="0.5"/>
<text x="367.00" y="246.50" font-size="3.4" text-anchor="end" fill="#222" stroke="#222" stroke-width="0.09" >95</text>
<line x1="367.80" y1="254.16" x2="369.4" y2="254.16" stroke="#1a1a1a" stroke-width="0.5"/>
<text x="367.00" y="255.38" font-size="3.4" text-anchor="end" fill="#222" stroke="#222" stroke-width="0.09" >90</text>
<line x1="367.80" y1="263.04" x2="369.4" y2="263.04" stroke="#1a1a1a" stroke-width="0.5"/>
<text x="367.00" y="264.26" font-size="3.4" text-anchor="end" fill="#222" stroke="#222" stroke-width="0.09" >85</text>
<line x1="367.80" y1="271.92" x2="369.4" y2="271.92" stroke="#1a1a1a" stroke-width="0.5"/>
<text x="367.00" y="273.14" font-size="3.4" text-anchor="end" fill="#222" stroke="#222" stroke-width="0.09" >80</text>
<line x1="367.80" y1="280.80" x2="369.4" y2="280.80" stroke="#1a1a1a" stroke-width="0.5"/>
<text x="367.00" y="282.02" font-size="3.4" text-anchor="end" fill="#222" stroke="#222" stroke-width="0.09" >75</text>
<line x1="367.80" y1="289.68" x2="369.4" y2="289.68" stroke="#1a1a1a" stroke-width="0.5"/>
<text x="367.00" y="290.90" font-size="3.4" text-anchor="end" fill="#222" stroke="#222" stroke-width="0.09" >70</text>
<line x1="367.80" y1="298.56" x2="369.4" y2="298.56" stroke="#1a1a1a" stroke-width="0.5"/>
<text x="367.00" y="299.78" font-size="3.4" text-anchor="end" fill="#222" stroke="#222" stroke-width="0.09" >65</text>
<line x1="367.80" y1="307.44" x2="369.4" y2="307.44" stroke="#1a1a1a" stroke-width="0.5"/>
<text x="367.00" y="308.66" font-size="3.4" text-anchor="end" fill="#222" stroke="#222" stroke-width="0.09" >60</text>
<line x1="369.50" y1="307.44" x2="369.50" y2="308.94" stroke="#1a1a1a" stroke-width="0.5"/>
<text x="369.50" y="312.47" font-size="3.4" text-anchor="middle" fill="#222" stroke="#222" stroke-width="0.09" >0</text>
<line x1="388.50" y1="307.44" x2="388.50" y2="308.94" stroke="#1a1a1a" stroke-width="0.5"/>
<text x="388.50" y="312.47" font-size="3.4" text-anchor="middle" fill="#222" stroke="#222" stroke-width="0.09" >12</text>
<line x1="407.50" y1="307.44" x2="407.50" y2="308.94" stroke="#1a1a1a" stroke-width="0.5"/>
<text x="407.50" y="312.47" font-size="3.4" text-anchor="middle" fill="#222" stroke="#222" stroke-width="0.09" >24</text>
<line x1="426.50" y1="307.44" x2="426.50" y2="308.94" stroke="#1a1a1a" stroke-width="0.5"/>
<text x="426.50" y="312.47" font-size="3.4" text-anchor="middle" fill="#222" stroke="#222" stroke-width="0.09" >36</text>
<line x1="445.50" y1="307.44" x2="445.50" y2="308.94" stroke="#1a1a1a" stroke-width="0.5"/>
<text x="445.50" y="312.47" font-size="3.4" text-anchor="middle" fill="#222" stroke="#222" stroke-width="0.09" >48</text>
<line x1="464.50" y1="307.44" x2="464.50" y2="308.94" stroke="#1a1a1a" stroke-width="0.5"/>
<text x="464.50" y="312.47" font-size="3.4" text-anchor="middle" fill="#222" stroke="#222" stroke-width="0.09" >60</text>
<line x1="379.00" y1="307.44" x2="379.00" y2="308.34" stroke="#1a1a1a" stroke-width="0.4"/>
<line x1="398.00" y1="307.44" x2="398.00" y2="308.34" stroke="#1a1a1a" stroke-width="0.4"/>
<line x1="417.00" y1="307.44" x2="417.00" y2="308.34" stroke="#1a1a1a" stroke-width="0.4"/>
<line x1="436.00" y1="307.44" x2="436.00" y2="308.34" stroke="#1a1a1a" stroke-width="0.4"/>
<line x1="455.00" y1="307.44" x2="455.00" y2="308.34" stroke="#1a1a1a" stroke-width="0.4"/>
<line x1="474.00" y1="307.44" x2="474.00" y2="308.34" stroke="#1a1a1a" stroke-width="0.4"/>
<path d="M369.4 235.80V307.44H474.6" stroke="#1a1a1a" stroke-width="0.8" fill="none"/>
<path d="M369.40 236.40H375.50V237.13H377.60V237.57H379.70V238.00H381.80V238.43H383.90V238.87H386.00V239.30H391.62V240.30H394.25V240.80H396.88V241.30H399.50V241.80H402.12V242.30H404.75V242.80H407.38V243.30H410.00V243.80H418.50V244.00H422.25V245.27H424.00V245.73H425.75V246.20H427.50V246.67H429.25V247.13H431.00V247.60H437.33V248.17H440.67V248.43H444.00V248.70H474.60V248.70" stroke="#3f6ae0" stroke-width="0.6" fill="none" stroke-opacity="1.0"/>
<line x1="443.80" y1="248.70" x2="474.60" y2="248.70" stroke="#3f6ae0" stroke-width="1.4" stroke-opacity="0.8"/>
<path d="" stroke="#3f6ae0" stroke-width="0.4" fill="none"/>
<path d="M369.40 236.40H376.00V239.30H385.30V241.00H386.20V245.00H388.60V247.60H390.40V251.20H393.40V254.00H395.20V257.40H415.70V258.40H416.60V261.00H418.60V263.90H474.60V263.90" stroke="#e9a23b" stroke-width="0.6" fill="none" stroke-opacity="1.0"/>
<path d="M448.15 263.20V264.18M450.45 263.20V264.18M452.75 263.20V264.18M455.05 263.20V264.18M457.35 263.20V264.18M459.65 263.20V264.18M461.95 263.20V264.18M464.25 263.20V264.18M466.55 263.20V264.18M468.85 263.20V264.18M471.15 263.20V264.18M473.45 263.20V264.18" stroke="#e9a23b" stroke-width="0.4" fill="none"/>
<rect x="372.6" y="281.2" width="80.60" height="16.60" fill="#fff" stroke="#222" stroke-width="0.8"/>
<line x1="376" y1="287.2" x2="382.0" y2="287.2" stroke="#3f6ae0" stroke-width="0.55"/>
<line x1="379.0" y1="286.4" x2="379.0" y2="287.5" stroke="#3f6ae0" stroke-width="0.4"/>
<text x="385.00" y="288.21" font-size="2.8" text-anchor="start" fill="#333" textLength="26.50" lengthAdjust="spacingAndGlyphs" stroke="#333" stroke-width="0.11" >Low H3K27Me3 level</text>
<line x1="376" y1="293.4" x2="382.0" y2="293.4" stroke="#e9a23b" stroke-width="0.55"/>
<line x1="379.0" y1="292.59999999999997" x2="379.0" y2="293.7" stroke="#e9a23b" stroke-width="0.4"/>
<text x="385.00" y="294.41" font-size="2.8" text-anchor="start" fill="#333" textLength="27.50" lengthAdjust="spacingAndGlyphs" stroke="#333" stroke-width="0.11" >High H3K27Me3 level</text>
<text x="426.20" y="285.30" font-size="2.6" text-anchor="middle" fill="#222" font-weight="bold" stroke="#222" stroke-width="0.11" >HR (95% CI)</text>
<text x="426.20" y="288.50" font-size="2.6" text-anchor="middle" fill="#333" stroke="#333" stroke-width="0.11" >2.66</text>
<text x="426.20" y="291.80" font-size="2.6" text-anchor="middle" fill="#333" stroke="#333" stroke-width="0.11" >(1.13 - 4.92)</text>
<text x="426.20" y="295.20" font-size="2.6" text-anchor="middle" fill="#333" font-style="italic" stroke="#333" stroke-width="0.11" >P = 0.022</text>
<text x="443.20" y="288.40" font-size="2.6" text-anchor="middle" fill="#222" font-weight="bold" stroke="#222" stroke-width="0.11" >Log-rank</text>
<text x="443.20" y="291.80" font-size="2.6" text-anchor="middle" fill="#333" font-style="italic" stroke="#333" stroke-width="0.11" >P = 0.018</text>
<text transform="translate(358.80 276.20) rotate(-90)" font-size="3.3" text-anchor="middle" fill="#222" stroke="#222" stroke-width="0.09">Survival, %</text>
<text x="422.20" y="319.00" font-size="3.4" text-anchor="middle" fill="#222" stroke="#222" stroke-width="0.09" >Months</text>
<text x="340.00" y="319.90" font-size="3.2" text-anchor="start" fill="#111" font-weight="bold" stroke="#111" stroke-width="0.09" >No. at risk</text>
<text x="340.00" y="324.10" font-size="3.3" text-anchor="start" fill="#222" textLength="23.50" lengthAdjust="spacingAndGlyphs" stroke="#222" stroke-width="0.09" >Low H3K27Me3</text>
<text x="340.00" y="327.80" font-size="3.3" text-anchor="start" fill="#222" textLength="24.20" lengthAdjust="spacingAndGlyphs" stroke="#222" stroke-width="0.09" >High H3K27Me3</text>
<text x="369.50" y="324.19" font-size="3.3" text-anchor="middle" fill="#222" stroke="#222" stroke-width="0.09" >496</text>
<text x="388.50" y="324.19" font-size="3.3" text-anchor="middle" fill="#222" stroke="#222" stroke-width="0.09" >479</text>
<text x="407.50" y="324.19" font-size="3.3" text-anchor="middle" fill="#222" stroke="#222" stroke-width="0.09" >461</text>
<text x="426.50" y="324.19" font-size="3.3" text-anchor="middle" fill="#222" stroke="#222" stroke-width="0.09" >444</text>
<text x="445.50" y="324.19" font-size="3.3" text-anchor="middle" fill="#222" stroke="#222" stroke-width="0.09" >382</text>
<text x="464.50" y="324.19" font-size="3.3" text-anchor="middle" fill="#222" stroke="#222" stroke-width="0.09" >141</text>
<text x="369.50" y="327.89" font-size="3.3" text-anchor="middle" fill="#222" stroke="#222" stroke-width="0.09" >62</text>
<text x="388.50" y="327.89" font-size="3.3" text-anchor="middle" fill="#222" stroke="#222" stroke-width="0.09" >57</text>
<text x="407.50" y="327.89" font-size="3.3" text-anchor="middle" fill="#222" stroke="#222" stroke-width="0.09" >52</text>
<text x="426.50" y="327.89" font-size="3.3" text-anchor="middle" fill="#222" stroke="#222" stroke-width="0.09" >47</text>
<text x="445.50" y="327.89" font-size="3.3" text-anchor="middle" fill="#222" stroke="#222" stroke-width="0.09" >46</text>
<text x="464.50" y="327.89" font-size="3.3" text-anchor="middle" fill="#222" stroke="#222" stroke-width="0.09" >21</text>
<text x="561.30" y="229.10" font-size="4.7" text-anchor="middle" fill="#111" font-weight="bold" textLength="35.00" lengthAdjust="spacingAndGlyphs" stroke="#111" stroke-width="0.09" >Overall Survival</text>
<line x1="496.3" y1="236.50" x2="603.30" y2="236.50" stroke="#dedede" stroke-width="0.5"/>
<line x1="496.3" y1="248.07" x2="603.30" y2="248.07" stroke="#dedede" stroke-width="0.5"/>
<line x1="496.3" y1="259.64" x2="603.30" y2="259.64" stroke="#dedede" stroke-width="0.5"/>
<line x1="496.3" y1="271.21" x2="624.00" y2="271.21" stroke="#dedede" stroke-width="0.5"/>
<line x1="496.3" y1="282.78" x2="624.00" y2="282.78" stroke="#dedede" stroke-width="0.5"/>
<line x1="496.3" y1="294.35" x2="624.00" y2="294.35" stroke="#dedede" stroke-width="0.5"/>
<line x1="494.70" y1="236.50" x2="496.3" y2="236.50" stroke="#1a1a1a" stroke-width="0.5"/>
<text x="493.90" y="238.08" font-size="4.4" text-anchor="end" fill="#222" stroke="#222" stroke-width="0.09" >100</text>
<line x1="494.70" y1="248.07" x2="496.3" y2="248.07" stroke="#1a1a1a" stroke-width="0.5"/>
<text x="493.90" y="249.65" font-size="4.4" text-anchor="end" fill="#222" stroke="#222" stroke-width="0.09" >95</text>
<line x1="494.70" y1="259.64" x2="496.3" y2="259.64" stroke="#1a1a1a" stroke-width="0.5"/>
<text x="493.90" y="261.22" font-size="4.4" text-anchor="end" fill="#222" stroke="#222" stroke-width="0.09" >90</text>
<line x1="494.70" y1="271.21" x2="496.3" y2="271.21" stroke="#1a1a1a" stroke-width="0.5"/>
<text x="493.90" y="272.79" font-size="4.4" text-anchor="end" fill="#222" stroke="#222" stroke-width="0.09" >85</text>
<line x1="494.70" y1="282.78" x2="496.3" y2="282.78" stroke="#1a1a1a" stroke-width="0.5"/>
<text x="493.90" y="284.36" font-size="4.4" text-anchor="end" fill="#222" stroke="#222" stroke-width="0.09" >80</text>
<line x1="494.70" y1="294.35" x2="496.3" y2="294.35" stroke="#1a1a1a" stroke-width="0.5"/>
<text x="493.90" y="295.93" font-size="4.4" text-anchor="end" fill="#222" stroke="#222" stroke-width="0.09" >75</text>
<line x1="494.70" y1="305.92" x2="496.3" y2="305.92" stroke="#1a1a1a" stroke-width="0.5"/>
<text x="493.90" y="307.50" font-size="4.4" text-anchor="end" fill="#222" stroke="#222" stroke-width="0.09" >70</text>
<line x1="496.30" y1="305.92" x2="496.30" y2="307.42" stroke="#1a1a1a" stroke-width="0.5"/>
<text x="496.30" y="311.90" font-size="4.4" text-anchor="middle" fill="#222" stroke="#222" stroke-width="0.09" >0</text>
<line x1="520.00" y1="305.92" x2="520.00" y2="307.42" stroke="#1a1a1a" stroke-width="0.5"/>
<text x="520.00" y="311.90" font-size="4.4" text-anchor="middle" fill="#222" stroke="#222" stroke-width="0.09" >12</text>
<line x1="543.80" y1="305.92" x2="543.80" y2="307.42" stroke="#1a1a1a" stroke-width="0.5"/>
<text x="543.80" y="311.90" font-size="4.4" text-anchor="middle" fill="#222" stroke="#222" stroke-width="0.09" >24</text>
<line x1="567.50" y1="305.92" x2="567.50" y2="307.42" stroke="#1a1a1a" stroke-width="0.5"/>
<text x="567.50" y="311.90" font-size="4.4" text-anchor="middle" fill="#222" stroke="#222" stroke-width="0.09" >36</text>
<line x1="590.60" y1="305.92" x2="590.60" y2="307.42" stroke="#1a1a1a" stroke-width="0.5"/>
<text x="590.60" y="311.90" font-size="4.4" text-anchor="middle" fill="#222" stroke="#222" stroke-width="0.09" >48</text>
<line x1="613.80" y1="305.92" x2="613.80" y2="307.42" stroke="#1a1a1a" stroke-width="0.5"/>
<text x="613.80" y="311.90" font-size="4.4" text-anchor="middle" fill="#222" stroke="#222" stroke-width="0.09" >60</text>
<line x1="508.15" y1="305.92" x2="508.15" y2="306.82" stroke="#1a1a1a" stroke-width="0.4"/>
<line x1="531.85" y1="305.92" x2="531.85" y2="306.82" stroke="#1a1a1a" stroke-width="0.4"/>
<line x1="555.65" y1="305.92" x2="555.65" y2="306.82" stroke="#1a1a1a" stroke-width="0.4"/>
<line x1="579.35" y1="305.92" x2="579.35" y2="306.82" stroke="#1a1a1a" stroke-width="0.4"/>
<line x1="602.45" y1="305.92" x2="602.45" y2="306.82" stroke="#1a1a1a" stroke-width="0.4"/>
<path d="M496.3 235.90V305.92H624.2" stroke="#1a1a1a" stroke-width="0.9" fill="none"/>
<path d="M496.30 236.50H510.00V236.90H523.30V237.30H527.00V238.20H533.00V238.60H546.00V238.90H556.00V239.50H575.00V239.80H604.00V240.00" stroke="#3f6ae0" stroke-width="0.6" fill="none" stroke-opacity="1.0"/>
<line x1="581.70" y1="240.00" x2="603.30" y2="240.00" stroke="#3f6ae0" stroke-width="1.3" stroke-opacity="0.8"/>
<path d="" stroke="#3f6ae0" stroke-width="0.4" fill="none"/>
<path d="M496.30 236.50H523.30V239.80H528.70V244.00H592.80V248.30H604.00V248.30" stroke="#e9a23b" stroke-width="0.6" fill="none" stroke-opacity="1.0"/>
<path d="M594.93 247.60V248.58M596.79 247.60V248.58M598.65 247.60V248.58M600.51 247.60V248.58M602.37 247.60V248.58" stroke="#e9a23b" stroke-width="0.4" fill="none"/>
<rect x="502.2" y="276.2" width="92.30" height="17.80" fill="#fff" stroke="#222" stroke-width="0.8"/>
<line x1="505.5" y1="282.0" x2="511.5" y2="282.0" stroke="#3f6ae0" stroke-width="0.55"/>
<line x1="508.5" y1="281.2" x2="508.5" y2="282.3" stroke="#3f6ae0" stroke-width="0.4"/>
<text x="514.50" y="283.04" font-size="2.9" text-anchor="start" fill="#333" textLength="29.00" lengthAdjust="spacingAndGlyphs" stroke="#333" stroke-width="0.11" >Low H3K27Me3 level</text>
<line x1="505.5" y1="288.8" x2="511.5" y2="288.8" stroke="#e9a23b" stroke-width="0.55"/>
<line x1="508.5" y1="288.0" x2="508.5" y2="289.1" stroke="#e9a23b" stroke-width="0.4"/>
<text x="514.50" y="289.84" font-size="2.9" text-anchor="start" fill="#333" textLength="30.00" lengthAdjust="spacingAndGlyphs" stroke="#333" stroke-width="0.11" >High H3K27Me3 level</text>
<text x="558.70" y="280.40" font-size="2.6" text-anchor="middle" fill="#222" font-weight="bold" stroke="#222" stroke-width="0.11" >HR (95% CI)</text>
<text x="558.70" y="283.90" font-size="2.6" text-anchor="middle" fill="#333" stroke="#333" stroke-width="0.11" >3.09</text>
<text x="558.70" y="287.60" font-size="2.6" text-anchor="middle" fill="#333" stroke="#333" stroke-width="0.11" >(1.13 - 8.26)</text>
<text x="558.70" y="291.40" font-size="2.6" text-anchor="middle" fill="#333" font-style="italic" stroke="#333" stroke-width="0.11" >P = 0.030</text>
<text x="582.20" y="282.70" font-size="2.6" text-anchor="middle" fill="#222" font-weight="bold" stroke="#222" stroke-width="0.11" >Log-rank</text>
<text x="582.20" y="286.60" font-size="2.6" text-anchor="middle" fill="#333" font-style="italic" stroke="#333" stroke-width="0.11" >P = 0.036</text>
<text x="561.20" y="318.80" font-size="4.6" text-anchor="middle" fill="#222" stroke="#222" stroke-width="0.09" >Months</text>
<text x="496.30" y="326.28" font-size="4.4" text-anchor="middle" fill="#222" stroke="#222" stroke-width="0.09" >496</text>
<text x="520.00" y="326.28" font-size="4.4" text-anchor="middle" fill="#222" stroke="#222" stroke-width="0.09" >486</text>
<text x="543.80" y="326.28" font-size="4.4" text-anchor="middle" fill="#222" stroke="#222" stroke-width="0.09" >474</text>
<text x="567.50" y="326.28" font-size="4.4" text-anchor="middle" fill="#222" stroke="#222" stroke-width="0.09" >459</text>
<text x="590.60" y="326.28" font-size="4.4" text-anchor="middle" fill="#222" stroke="#222" stroke-width="0.09" >400</text>
<text x="613.80" y="326.28" font-size="4.4" text-anchor="middle" fill="#222" stroke="#222" stroke-width="0.09" >147</text>
<text x="496.30" y="331.28" font-size="4.4" text-anchor="middle" fill="#222" stroke="#222" stroke-width="0.09" >62</text>
<text x="520.00" y="331.28" font-size="4.4" text-anchor="middle" fill="#222" stroke="#222" stroke-width="0.09" >59</text>
<text x="543.80" y="331.28" font-size="4.4" text-anchor="middle" fill="#222" stroke="#222" stroke-width="0.09" >56</text>
<text x="567.50" y="331.28" font-size="4.4" text-anchor="middle" fill="#222" stroke="#222" stroke-width="0.09" >52</text>
<text x="590.60" y="331.28" font-size="4.4" text-anchor="middle" fill="#222" stroke="#222" stroke-width="0.09" >51</text>
<text x="613.80" y="331.28" font-size="4.4" text-anchor="middle" fill="#222" stroke="#222" stroke-width="0.09" >25</text>
<text x="498.00" y="347.40" font-size="4.2" text-anchor="middle" fill="#111" font-weight="bold" textLength="48.80" lengthAdjust="spacingAndGlyphs" stroke="#111" stroke-width="0.09" >Recurrence-Free Survival</text>
<line x1="429.6" y1="353.60" x2="567.00" y2="353.60" stroke="#dedede" stroke-width="0.5"/>
<line x1="429.6" y1="358.67" x2="567.00" y2="358.67" stroke="#dedede" stroke-width="0.5"/>
<line x1="429.6" y1="363.73" x2="567.00" y2="363.73" stroke="#dedede" stroke-width="0.5"/>
<line x1="429.6" y1="368.80" x2="567.00" y2="368.80" stroke="#dedede" stroke-width="0.5"/>
<line x1="429.6" y1="373.87" x2="567.00" y2="373.87" stroke="#dedede" stroke-width="0.5"/>
<line x1="429.6" y1="378.94" x2="567.00" y2="378.94" stroke="#dedede" stroke-width="0.5"/>
<line x1="429.6" y1="384.00" x2="567.00" y2="384.00" stroke="#dedede" stroke-width="0.5"/>
<line x1="429.6" y1="389.07" x2="567.00" y2="389.07" stroke="#dedede" stroke-width="0.5"/>
<line x1="429.6" y1="394.14" x2="567.00" y2="394.14" stroke="#dedede" stroke-width="0.5"/>
<line x1="429.6" y1="399.20" x2="567.00" y2="399.20" stroke="#dedede" stroke-width="0.5"/>
<line x1="429.6" y1="404.27" x2="567.00" y2="404.27" stroke="#dedede" stroke-width="0.5"/>
<line x1="429.6" y1="409.34" x2="567.00" y2="409.34" stroke="#dedede" stroke-width="0.5"/>
<line x1="428.00" y1="353.60" x2="429.6" y2="353.60" stroke="#1a1a1a" stroke-width="0.5"/>
<text x="427.20" y="355.00" font-size="3.9" text-anchor="end" fill="#222" stroke="#222" stroke-width="0.09" >100</text>
<line x1="428.00" y1="358.67" x2="429.6" y2="358.67" stroke="#1a1a1a" stroke-width="0.5"/>
<text x="427.20" y="360.07" font-size="3.9" text-anchor="end" fill="#222" stroke="#222" stroke-width="0.09" >95</text>
<line x1="428.00" y1="363.73" x2="429.6" y2="363.73" stroke="#1a1a1a" stroke-width="0.5"/>
<text x="427.20" y="365.14" font-size="3.9" text-anchor="end" fill="#222" stroke="#222" stroke-width="0.09" >90</text>
<line x1="428.00" y1="368.80" x2="429.6" y2="368.80" stroke="#1a1a1a" stroke-width="0.5"/>
<text x="427.20" y="370.21" font-size="3.9" text-anchor="end" fill="#222" stroke="#222" stroke-width="0.09" >85</text>
<line x1="428.00" y1="373.87" x2="429.6" y2="373.87" stroke="#1a1a1a" stroke-width="0.5"/>
<text x="427.20" y="375.27" font-size="3.9" text-anchor="end" fill="#222" stroke="#222" stroke-width="0.09" >80</text>
<line x1="428.00" y1="378.94" x2="429.6" y2="378.94" stroke="#1a1a1a" stroke-width="0.5"/>
<text x="427.20" y="380.34" font-size="3.9" text-anchor="end" fill="#222" stroke="#222" stroke-width="0.09" >75</text>
<line x1="428.00" y1="384.00" x2="429.6" y2="384.00" stroke="#1a1a1a" stroke-width="0.5"/>
<text x="427.20" y="385.41" font-size="3.9" text-anchor="end" fill="#222" stroke="#222" stroke-width="0.09" >70</text>
<line x1="428.00" y1="389.07" x2="429.6" y2="389.07" stroke="#1a1a1a" stroke-width="0.5"/>
<text x="427.20" y="390.47" font-size="3.9" text-anchor="end" fill="#222" stroke="#222" stroke-width="0.09" >65</text>
<line x1="428.00" y1="394.14" x2="429.6" y2="394.14" stroke="#1a1a1a" stroke-width="0.5"/>
<text x="427.20" y="395.54" font-size="3.9" text-anchor="end" fill="#222" stroke="#222" stroke-width="0.09" >60</text>
<line x1="428.00" y1="399.20" x2="429.6" y2="399.20" stroke="#1a1a1a" stroke-width="0.5"/>
<text x="427.20" y="400.61" font-size="3.9" text-anchor="end" fill="#222" stroke="#222" stroke-width="0.09" >55</text>
<line x1="428.00" y1="404.27" x2="429.6" y2="404.27" stroke="#1a1a1a" stroke-width="0.5"/>
<text x="427.20" y="405.67" font-size="3.9" text-anchor="end" fill="#222" stroke="#222" stroke-width="0.09" >50</text>
<line x1="428.00" y1="409.34" x2="429.6" y2="409.34" stroke="#1a1a1a" stroke-width="0.5"/>
<text x="427.20" y="410.74" font-size="3.9" text-anchor="end" fill="#222" stroke="#222" stroke-width="0.09" >45</text>
<line x1="428.00" y1="414.40" x2="429.6" y2="414.40" stroke="#1a1a1a" stroke-width="0.5"/>
<text x="427.20" y="415.81" font-size="3.9" text-anchor="end" fill="#222" stroke="#222" stroke-width="0.09" >40</text>
<line x1="429.60" y1="414.404" x2="429.60" y2="415.90" stroke="#1a1a1a" stroke-width="0.5"/>
<text x="429.60" y="419.91" font-size="3.9" text-anchor="middle" fill="#222" stroke="#222" stroke-width="0.09" >0</text>
<line x1="454.56" y1="414.404" x2="454.56" y2="415.90" stroke="#1a1a1a" stroke-width="0.5"/>
<text x="454.56" y="419.91" font-size="3.9" text-anchor="middle" fill="#222" stroke="#222" stroke-width="0.09" >12</text>
<line x1="479.52" y1="414.404" x2="479.52" y2="415.90" stroke="#1a1a1a" stroke-width="0.5"/>
<text x="479.52" y="419.91" font-size="3.9" text-anchor="middle" fill="#222" stroke="#222" stroke-width="0.09" >24</text>
<line x1="504.48" y1="414.404" x2="504.48" y2="415.90" stroke="#1a1a1a" stroke-width="0.5"/>
<text x="504.48" y="419.91" font-size="3.9" text-anchor="middle" fill="#222" stroke="#222" stroke-width="0.09" >36</text>
<line x1="529.44" y1="414.404" x2="529.44" y2="415.90" stroke="#1a1a1a" stroke-width="0.5"/>
<text x="529.44" y="419.91" font-size="3.9" text-anchor="middle" fill="#222" stroke="#222" stroke-width="0.09" >48</text>
<line x1="554.40" y1="414.404" x2="554.40" y2="415.90" stroke="#1a1a1a" stroke-width="0.5"/>
<text x="554.40" y="419.91" font-size="3.9" text-anchor="middle" fill="#222" stroke="#222" stroke-width="0.09" >60</text>
<line x1="442.08" y1="414.404" x2="442.08" y2="415.30" stroke="#1a1a1a" stroke-width="0.4"/>
<line x1="467.04" y1="414.404" x2="467.04" y2="415.30" stroke="#1a1a1a" stroke-width="0.4"/>
<line x1="492.00" y1="414.404" x2="492.00" y2="415.30" stroke="#1a1a1a" stroke-width="0.4"/>
<line x1="516.96" y1="414.404" x2="516.96" y2="415.30" stroke="#1a1a1a" stroke-width="0.4"/>
<line x1="541.92" y1="414.404" x2="541.92" y2="415.30" stroke="#1a1a1a" stroke-width="0.4"/>
<line x1="566.88" y1="414.404" x2="566.88" y2="415.30" stroke="#1a1a1a" stroke-width="0.4"/>
<path d="M429.6 353.00V414.404H567.0" stroke="#1a1a1a" stroke-width="0.8" fill="none"/>
<path d="M429.60 353.60H470.00V353.80H520.00V354.00H567.00V354.00" stroke="#3f6ae0" stroke-width="0.6" fill="none" stroke-opacity="1.0"/>
<line x1="528.00" y1="353.90" x2="567.00" y2="353.90" stroke="#3f6ae0" stroke-width="1.6" stroke-opacity="0.8"/>
<path d="M443.11 353.10V354.08M449.32 353.10V354.08M455.54 353.10V354.08M461.75 353.10V354.08M467.96 353.10V354.08M474.18 353.10V354.08M480.39 353.10V354.08M486.61 353.10V354.08M492.82 353.10V354.08M499.04 353.10V354.08M505.25 353.10V354.08M511.46 353.10V354.08M517.68 353.10V354.08M523.89 353.10V354.08" stroke="#3f6ae0" stroke-width="0.4" fill="none"/>
<path d="M429.60 353.60H463.60V356.40H567.00V356.40" stroke="#e9a23b" stroke-width="0.6" fill="none" stroke-opacity="1.0"/>
<path d="M531.85 355.80V356.64M535.55 355.80V356.64M539.25 355.80V356.64M542.95 355.80V356.64M546.65 355.80V356.64M550.35 355.80V356.64M554.05 355.80V356.64M557.75 355.80V356.64M561.45 355.80V356.64M565.15 355.80V356.64" stroke="#e9a23b" stroke-width="0.4" fill="none"/>
<path d="M429.60 353.60H436.00V355.00H441.00V357.60H446.00V360.00H450.00V361.60H453.00V363.00H458.00V364.60H464.00V366.00H466.00V367.80H468.00V369.40H476.00V371.00H477.50V373.40H479.00V375.60H494.00V376.80H496.00V378.40H498.50V380.60H501.00V382.20H504.00V384.00H506.50V386.20H510.00V389.00H518.00V391.00H524.00V392.00H567.00V392.00" stroke="#3f6ae0" stroke-width="0.6" fill="none" stroke-dasharray="0.9 0.5" stroke-opacity="1.0"/>
<path d="M429.60 353.60H434.00V355.60H438.00V358.00H450.60V362.60H451.60V367.60H454.00V370.00H456.00V372.00H457.60V374.60H459.00V376.40H460.60V378.60H462.40V381.00H490.60V383.60H492.00V386.00H493.20V389.00H494.20V391.60H560.00V391.60" stroke="#e9a23b" stroke-width="0.6" fill="none" stroke-dasharray="0.9 0.5" stroke-opacity="1.0"/>
<path d="M522.22 391.00V391.84M526.67 391.00V391.84M531.11 391.00V391.84M535.56 391.00V391.84M540.00 391.00V391.84M544.44 391.00V391.84M548.89 391.00V391.84M553.33 391.00V391.84M557.78 391.00V391.84" stroke="#e9a23b" stroke-width="0.4" fill="none"/>
<text x="567.00" y="361.70" font-size="3.0" text-anchor="end" fill="#222" textLength="53.00" lengthAdjust="spacingAndGlyphs" stroke="#222" stroke-width="0.11" >Non-adjuvant, High vs Low HR = 13.663</text>
<text x="567.00" y="365.30" font-size="3.0" text-anchor="end" fill="#222" font-style="italic" stroke="#222" stroke-width="0.11" >P = 0.037</text>
<text x="563.60" y="399.10" font-size="3.0" text-anchor="end" fill="#222" textLength="45.00" lengthAdjust="spacingAndGlyphs" stroke="#222" stroke-width="0.11" >Adjuvant, High vs Low HR = 1.100</text>
<text x="563.60" y="402.70" font-size="3.0" text-anchor="end" fill="#222" font-style="italic" stroke="#222" stroke-width="0.11" >P = 0.780</text>
<rect x="432.6" y="394.6" width="68.40" height="17.80" fill="#fff" stroke="#222" stroke-width="0.7"/>
<line x1="435.2" y1="397.4" x2="440.2" y2="397.4" stroke="#3f6ae0" stroke-width="0.55"/>
<line x1="437.7" y1="396.59999999999997" x2="437.7" y2="397.7" stroke="#3f6ae0" stroke-width="0.4"/>
<text x="443.20" y="398.16" font-size="2.1" text-anchor="start" fill="#333" stroke="#333" stroke-width="0.11" >Non-adjuvant therapy, Low H3K27Me3</text>
<line x1="435.2" y1="401.59999999999997" x2="440.2" y2="401.59999999999997" stroke="#e9a23b" stroke-width="0.55"/>
<line x1="437.7" y1="400.79999999999995" x2="437.7" y2="401.9" stroke="#e9a23b" stroke-width="0.4"/>
<text x="443.20" y="402.36" font-size="2.1" text-anchor="start" fill="#333" stroke="#333" stroke-width="0.11" >Non-adjuvant therapy, High H3K27Me3</text>
<line x1="435.2" y1="405.79999999999995" x2="440.2" y2="405.79999999999995" stroke="#3f6ae0" stroke-width="0.55" stroke-dasharray="0.8 0.5"/>
<line x1="437.7" y1="404.99999999999994" x2="437.7" y2="406.09999999999997" stroke="#3f6ae0" stroke-width="0.4"/>
<text x="443.20" y="406.56" font-size="2.1" text-anchor="start" fill="#333" stroke="#333" stroke-width="0.11" >Adjuvant therapy, Low H3K27Me3</text>
<line x1="435.2" y1="410.0" x2="440.2" y2="410.0" stroke="#e9a23b" stroke-width="0.55" stroke-dasharray="0.8 0.5"/>
<line x1="437.7" y1="409.2" x2="437.7" y2="410.3" stroke="#e9a23b" stroke-width="0.4"/>
<text x="443.20" y="410.76" font-size="2.1" text-anchor="start" fill="#333" stroke="#333" stroke-width="0.11" >Adjuvant therapy, High H3K27Me3</text>
<text x="489.20" y="402.40" font-size="2.0" text-anchor="middle" fill="#222" font-weight="bold" stroke="#222" stroke-width="0.11" >Overall log-rank</text>
<text x="493.80" y="405.00" font-size="2.0" text-anchor="middle" fill="#333" font-style="italic" stroke="#333" stroke-width="0.11" >P = 0.021</text>
<text transform="translate(417.80 384.00) rotate(-90)" font-size="3.6" text-anchor="middle" fill="#222" stroke="#222" stroke-width="0.09">Survival, %</text>
<text x="498.00" y="426.00" font-size="4.0" text-anchor="middle" fill="#222" stroke="#222" stroke-width="0.09" >Months</text>
<text x="392.10" y="427.70" font-size="3.6" text-anchor="start" fill="#111" font-weight="bold" stroke="#111" stroke-width="0.09" >No. at risk</text>
<text x="392.10" y="432.45" font-size="3.8" text-anchor="start" fill="#222" stroke="#222" stroke-width="0.09" >Non-adjuvant, Low</text>
<text x="429.60" y="432.47" font-size="3.8" text-anchor="middle" fill="#222" stroke="#222" stroke-width="0.09" >408</text>
<text x="454.56" y="432.47" font-size="3.8" text-anchor="middle" fill="#222" stroke="#222" stroke-width="0.09" >400</text>
<text x="479.52" y="432.47" font-size="3.8" text-anchor="middle" fill="#222" stroke="#222" stroke-width="0.09" >395</text>
<text x="504.48" y="432.47" font-size="3.8" text-anchor="middle" fill="#222" stroke="#222" stroke-width="0.09" >385</text>
<text x="529.44" y="432.47" font-size="3.8" text-anchor="middle" fill="#222" stroke="#222" stroke-width="0.09" >332</text>
<text x="554.40" y="432.47" font-size="3.8" text-anchor="middle" fill="#222" stroke="#222" stroke-width="0.09" >121</text>
<text x="392.10" y="436.65" font-size="3.8" text-anchor="start" fill="#222" stroke="#222" stroke-width="0.09" >Non-adjuvant, High</text>
<text x="429.60" y="436.67" font-size="3.8" text-anchor="middle" fill="#222" stroke="#222" stroke-width="0.09" >39</text>
<text x="454.56" y="436.67" font-size="3.8" text-anchor="middle" fill="#222" stroke="#222" stroke-width="0.09" >38</text>
<text x="479.52" y="436.67" font-size="3.8" text-anchor="middle" fill="#222" stroke="#222" stroke-width="0.09" >36</text>
<text x="504.48" y="436.67" font-size="3.8" text-anchor="middle" fill="#222" stroke="#222" stroke-width="0.09" >36</text>
<text x="529.44" y="436.67" font-size="3.8" text-anchor="middle" fill="#222" stroke="#222" stroke-width="0.09" >35</text>
<text x="554.40" y="436.67" font-size="3.8" text-anchor="middle" fill="#222" stroke="#222" stroke-width="0.09" >14</text>
<text x="392.10" y="441.05" font-size="3.8" text-anchor="start" fill="#222" stroke="#222" stroke-width="0.09" >Adjuvant, Low</text>
<text x="429.60" y="441.07" font-size="3.8" text-anchor="middle" fill="#222" stroke="#222" stroke-width="0.09" >88</text>
<text x="454.56" y="441.07" font-size="3.8" text-anchor="middle" fill="#222" stroke="#222" stroke-width="0.09" >80</text>
<text x="479.52" y="441.07" font-size="3.8" text-anchor="middle" fill="#222" stroke="#222" stroke-width="0.09" >67</text>
<text x="504.48" y="441.07" font-size="3.8" text-anchor="middle" fill="#222" stroke="#222" stroke-width="0.09" >60</text>
<text x="529.44" y="441.07" font-size="3.8" text-anchor="middle" fill="#222" stroke="#222" stroke-width="0.09" >51</text>
<text x="554.40" y="441.07" font-size="3.8" text-anchor="middle" fill="#222" stroke="#222" stroke-width="0.09" >22</text>
<text x="392.10" y="445.25" font-size="3.8" text-anchor="start" fill="#222" stroke="#222" stroke-width="0.09" >Adjuvant, High</text>
<text x="429.60" y="445.27" font-size="3.8" text-anchor="middle" fill="#222" stroke="#222" stroke-width="0.09" >23</text>
<text x="454.56" y="445.27" font-size="3.8" text-anchor="middle" fill="#222" stroke="#222" stroke-width="0.09" >20</text>
<text x="479.52" y="445.27" font-size="3.8" text-anchor="middle" fill="#222" stroke="#222" stroke-width="0.09" >17</text>
<text x="504.48" y="445.27" font-size="3.8" text-anchor="middle" fill="#222" stroke="#222" stroke-width="0.09" >12</text>
<text x="529.44" y="445.27" font-size="3.8" text-anchor="middle" fill="#222" stroke="#222" stroke-width="0.09" >12</text>
<text x="554.40" y="445.27" font-size="3.8" text-anchor="middle" fill="#222" stroke="#222" stroke-width="0.09" >7</text>
<text x="744.50" y="143.40" font-size="4.6" text-anchor="middle" fill="#111" font-weight="bold" textLength="35.00" lengthAdjust="spacingAndGlyphs" stroke="#111" stroke-width="0.09" >Overall Survival</text>
<line x1="665.7" y1="150.40" x2="823.90" y2="150.40" stroke="#dedede" stroke-width="0.5"/>
<line x1="665.7" y1="168.25" x2="823.90" y2="168.25" stroke="#dedede" stroke-width="0.5"/>
<line x1="665.7" y1="186.10" x2="823.90" y2="186.10" stroke="#dedede" stroke-width="0.5"/>
<line x1="665.7" y1="203.95" x2="823.90" y2="203.95" stroke="#dedede" stroke-width="0.5"/>
<line x1="664.10" y1="150.40" x2="665.7" y2="150.40" stroke="#1a1a1a" stroke-width="0.5"/>
<text x="663.30" y="151.98" font-size="4.4" text-anchor="end" fill="#222" stroke="#222" stroke-width="0.09" >100</text>
<line x1="664.10" y1="168.25" x2="665.7" y2="168.25" stroke="#1a1a1a" stroke-width="0.5"/>
<text x="663.30" y="169.83" font-size="4.4" text-anchor="end" fill="#222" stroke="#222" stroke-width="0.09" >95</text>
<line x1="664.10" y1="186.10" x2="665.7" y2="186.10" stroke="#1a1a1a" stroke-width="0.5"/>
<text x="663.30" y="187.68" font-size="4.4" text-anchor="end" fill="#222" stroke="#222" stroke-width="0.09" >90</text>
<line x1="664.10" y1="203.95" x2="665.7" y2="203.95" stroke="#1a1a1a" stroke-width="0.5"/>
<text x="663.30" y="205.53" font-size="4.4" text-anchor="end" fill="#222" stroke="#222" stroke-width="0.09" >85</text>
<line x1="664.10" y1="221.80" x2="665.7" y2="221.80" stroke="#1a1a1a" stroke-width="0.5"/>
<text x="663.30" y="223.38" font-size="4.4" text-anchor="end" fill="#222" stroke="#222" stroke-width="0.09" >80</text>
<line x1="665.70" y1="221.8" x2="665.70" y2="223.30" stroke="#1a1a1a" stroke-width="0.5"/>
<text x="665.70" y="227.78" font-size="4.4" text-anchor="middle" fill="#222" stroke="#222" stroke-width="0.09" >0</text>
<line x1="694.40" y1="221.8" x2="694.40" y2="223.30" stroke="#1a1a1a" stroke-width="0.5"/>
<text x="694.40" y="227.78" font-size="4.4" text-anchor="middle" fill="#222" stroke="#222" stroke-width="0.09" >12</text>
<line x1="723.10" y1="221.8" x2="723.10" y2="223.30" stroke="#1a1a1a" stroke-width="0.5"/>
<text x="723.10" y="227.78" font-size="4.4" text-anchor="middle" fill="#222" stroke="#222" stroke-width="0.09" >24</text>
<line x1="751.80" y1="221.8" x2="751.80" y2="223.30" stroke="#1a1a1a" stroke-width="0.5"/>
<text x="751.80" y="227.78" font-size="4.4" text-anchor="middle" fill="#222" stroke="#222" stroke-width="0.09" >36</text>
<line x1="780.50" y1="221.8" x2="780.50" y2="223.30" stroke="#1a1a1a" stroke-width="0.5"/>
<text x="780.50" y="227.78" font-size="4.4" text-anchor="middle" fill="#222" stroke="#222" stroke-width="0.09" >48</text>
<line x1="809.20" y1="221.8" x2="809.20" y2="223.30" stroke="#1a1a1a" stroke-width="0.5"/>
<text x="809.20" y="227.78" font-size="4.4" text-anchor="middle" fill="#222" stroke="#222" stroke-width="0.09" >60</text>
<line x1="680.05" y1="221.8" x2="680.05" y2="222.70" stroke="#1a1a1a" stroke-width="0.4"/>
<line x1="708.75" y1="221.8" x2="708.75" y2="222.70" stroke="#1a1a1a" stroke-width="0.4"/>
<line x1="737.45" y1="221.8" x2="737.45" y2="222.70" stroke="#1a1a1a" stroke-width="0.4"/>
<line x1="766.15" y1="221.8" x2="766.15" y2="222.70" stroke="#1a1a1a" stroke-width="0.4"/>
<line x1="794.85" y1="221.8" x2="794.85" y2="222.70" stroke="#1a1a1a" stroke-width="0.4"/>
<line x1="823.55" y1="221.8" x2="823.55" y2="222.70" stroke="#1a1a1a" stroke-width="0.4"/>
<path d="M665.7 149.80V221.8H823.9" stroke="#1a1a1a" stroke-width="0.9" fill="none"/>
<text x="819.70" y="140.00" font-size="3.1" text-anchor="end" fill="#222" textLength="47.00" lengthAdjust="spacingAndGlyphs" stroke="#222" stroke-width="0.11" >GGO, High vs Low H3K27Me3</text>
<text x="819.70" y="144.10" font-size="3.1" text-anchor="end" fill="#222" stroke="#222" stroke-width="0.11" >HR = 0.000</text>
<text x="819.70" y="148.20" font-size="3.1" text-anchor="end" fill="#222" font-style="italic" stroke="#222" stroke-width="0.11" >P = 0.656</text>
<path d="M665.70 150.40H690.00V150.90H720.00V151.40H769.50V151.80H823.90V151.80" stroke="#3f6ae0" stroke-width="0.6" fill="none" stroke-opacity="1.0"/>
<line x1="769.50" y1="151.80" x2="823.90" y2="151.80" stroke="#3f6ae0" stroke-width="1.2" stroke-opacity="0.8"/>
<path d="M665.70 150.40H823.90V150.40" stroke="#e9a23b" stroke-width="0.65" fill="none" stroke-opacity="1.0"/>
<path d="M671.54 149.70V150.68M678.63 149.70V150.68M685.72 149.70V150.68M692.80 149.70V150.68M699.89 149.70V150.68M706.98 149.70V150.68M714.06 149.70V150.68M721.15 149.70V150.68M728.23 149.70V150.68M735.32 149.70V150.68M742.41 149.70V150.68M749.49 149.70V150.68M756.58 149.70V150.68M763.67 149.70V150.68M770.75 149.70V150.68M777.84 149.70V150.68M784.92 149.70V150.68M792.01 149.70V150.68M799.10 149.70V150.68M806.18 149.70V150.68M813.27 149.70V150.68M820.36 149.70V150.68" stroke="#e9a23b" stroke-width="0.4" fill="none"/>
<path d="M665.70 150.40H672.00V151.20H686.70V152.00H692.00V153.00H700.70V152.60H703.00V154.20H710.00V155.40H716.00V156.50H728.00V157.00H736.00V157.90H742.70V158.40H750.00V158.80H760.00V159.60H766.00V160.50H812.20V160.50H812.20V164.90H823.90V164.90" stroke="#3f6ae0" stroke-width="0.6" fill="none" stroke-dasharray="1.0 0.5" stroke-opacity="1.0"/>
<line x1="770.00" y1="160.50" x2="812.20" y2="160.50" stroke="#3f6ae0" stroke-width="0.9" stroke-opacity="0.8"/>
<line x1="813.00" y1="164.90" x2="823.90" y2="164.90" stroke="#3f6ae0" stroke-width="1.1" stroke-opacity="0.8"/>
<path d="M665.70 150.40H698.30V159.50H705.30V168.90H782.80V180.30H809.20V202.00H822.00V202.00" stroke="#e9a23b" stroke-width="0.6" fill="none" stroke-dasharray="1.0 0.5" stroke-opacity="1.0"/>
<path d="M715.40 168.30V169.14M722.20 168.30V169.14M729.00 168.30V169.14M735.80 168.30V169.14M742.60 168.30V169.14M749.40 168.30V169.14M756.20 168.30V169.14M763.00 168.30V169.14M769.80 168.30V169.14M776.60 168.30V169.14" stroke="#e9a23b" stroke-width="0.4" fill="none"/>
<path d="M786.92 179.70V180.54M790.75 179.70V180.54M794.58 179.70V180.54M798.42 179.70V180.54M802.25 179.70V180.54M806.08 179.70V180.54" stroke="#e9a23b" stroke-width="0.4" fill="none"/>
<path d="M812.38 201.40V202.24M815.12 201.40V202.24M817.88 201.40V202.24M820.62 201.40V202.24" stroke="#e9a23b" stroke-width="0.4" fill="none"/>
<text x="775.80" y="179.50" font-size="2.9" text-anchor="end" fill="#222" textLength="68.00" lengthAdjust="spacingAndGlyphs" stroke="#222" stroke-width="0.11" >Part-solid and solid, High vs Low H3K27Me3</text>
<text x="775.80" y="183.50" font-size="2.9" text-anchor="end" fill="#222" stroke="#222" stroke-width="0.11" >HR = 2.816</text>
<text x="775.80" y="187.70" font-size="2.9" text-anchor="end" fill="#222" font-style="italic" stroke="#222" stroke-width="0.11" >P = 0.051</text>
<rect x="671.0" y="190.6" width="89.90" height="26.80" fill="#fff" stroke="#222" stroke-width="0.7"/>
<line x1="675.0" y1="197.3" x2="681.0" y2="197.3" stroke="#3f6ae0" stroke-width="0.55"/>
<line x1="678.0" y1="196.5" x2="678.0" y2="197.60000000000002" stroke="#3f6ae0" stroke-width="0.4"/>
<text x="684.00" y="198.20" font-size="2.5" text-anchor="start" fill="#333" stroke="#333" stroke-width="0.11" >GGO, Low H3K27Me3</text>
<line x1="675.0" y1="202.2" x2="681.0" y2="202.2" stroke="#e9a23b" stroke-width="0.55"/>
<line x1="678.0" y1="201.39999999999998" x2="678.0" y2="202.5" stroke="#e9a23b" stroke-width="0.4"/>
<text x="684.00" y="203.10" font-size="2.5" text-anchor="start" fill="#333" stroke="#333" stroke-width="0.11" >GGO, High H3K27Me3</text>
<line x1="675.0" y1="207.4" x2="681.0" y2="207.4" stroke="#3f6ae0" stroke-width="0.55" stroke-dasharray="0.8 0.5"/>
<line x1="678.0" y1="206.6" x2="678.0" y2="207.70000000000002" stroke="#3f6ae0" stroke-width="0.4"/>
<text x="684.00" y="208.30" font-size="2.5" text-anchor="start" fill="#333" stroke="#333" stroke-width="0.11" >Part-Solid and Solid, Low H3K27Me3</text>
<line x1="675.0" y1="212.7" x2="681.0" y2="212.7" stroke="#e9a23b" stroke-width="0.55" stroke-dasharray="0.8 0.5"/>
<line x1="678.0" y1="211.89999999999998" x2="678.0" y2="213.0" stroke="#e9a23b" stroke-width="0.4"/>
<text x="684.00" y="213.60" font-size="2.5" text-anchor="start" fill="#333" stroke="#333" stroke-width="0.11" >Part-Solid and Solid, High H3K27Me3</text>
<text x="744.40" y="202.80" font-size="2.4" text-anchor="middle" fill="#222" font-weight="bold" textLength="22.00" lengthAdjust="spacingAndGlyphs" stroke="#222" stroke-width="0.11" >Overall log-rank</text>
<text x="750.00" y="206.50" font-size="2.2" text-anchor="middle" fill="#333" font-style="italic" stroke="#333" stroke-width="0.11" >P = 0.013</text>
<text transform="translate(651.80 186.00) rotate(-90)" font-size="4.0" text-anchor="middle" fill="#222" stroke="#222" stroke-width="0.09">Survival, %</text>
<text x="744.50" y="234.50" font-size="4.6" text-anchor="middle" fill="#222" stroke="#222" stroke-width="0.09" >Months</text>
<text x="611.10" y="237.40" font-size="3.9" text-anchor="start" fill="#111" font-weight="bold" stroke="#111" stroke-width="0.09" >No. at risk</text>
<text x="611.10" y="242.60" font-size="4.2" text-anchor="start" fill="#222" stroke="#222" stroke-width="0.09" >GGO, Low</text>
<text x="665.70" y="242.61" font-size="4.2" text-anchor="middle" fill="#222" stroke="#222" stroke-width="0.09" >203</text>
<text x="694.40" y="242.61" font-size="4.2" text-anchor="middle" fill="#222" stroke="#222" stroke-width="0.09" >185</text>
<text x="723.10" y="242.61" font-size="4.2" text-anchor="middle" fill="#222" stroke="#222" stroke-width="0.09" >184</text>
<text x="751.80" y="242.61" font-size="4.2" text-anchor="middle" fill="#222" stroke="#222" stroke-width="0.09" >180</text>
<text x="780.50" y="242.61" font-size="4.2" text-anchor="middle" fill="#222" stroke="#222" stroke-width="0.09" >153</text>
<text x="809.20" y="242.61" font-size="4.2" text-anchor="middle" fill="#222" stroke="#222" stroke-width="0.09" >39</text>
<text x="611.10" y="247.50" font-size="4.2" text-anchor="start" fill="#222" stroke="#222" stroke-width="0.09" >GGO, High</text>
<text x="665.70" y="247.51" font-size="4.2" text-anchor="middle" fill="#222" stroke="#222" stroke-width="0.09" >29</text>
<text x="694.40" y="247.51" font-size="4.2" text-anchor="middle" fill="#222" stroke="#222" stroke-width="0.09" >36</text>
<text x="723.10" y="247.51" font-size="4.2" text-anchor="middle" fill="#222" stroke="#222" stroke-width="0.09" >36</text>
<text x="751.80" y="247.51" font-size="4.2" text-anchor="middle" fill="#222" stroke="#222" stroke-width="0.09" >36</text>
<text x="780.50" y="247.51" font-size="4.2" text-anchor="middle" fill="#222" stroke="#222" stroke-width="0.09" >34</text>
<text x="809.20" y="247.51" font-size="4.2" text-anchor="middle" fill="#222" stroke="#222" stroke-width="0.09" >14</text>
<text x="611.10" y="252.50" font-size="4.2" text-anchor="start" fill="#222" stroke="#222" stroke-width="0.09" >Part-solid and solid, Low</text>
<text x="665.70" y="252.51" font-size="4.2" text-anchor="middle" fill="#222" stroke="#222" stroke-width="0.09" >293</text>
<text x="694.40" y="252.51" font-size="4.2" text-anchor="middle" fill="#222" stroke="#222" stroke-width="0.09" >254</text>
<text x="723.10" y="252.51" font-size="4.2" text-anchor="middle" fill="#222" stroke="#222" stroke-width="0.09" >243</text>
<text x="751.80" y="252.51" font-size="4.2" text-anchor="middle" fill="#222" stroke="#222" stroke-width="0.09" >234</text>
<text x="780.50" y="252.51" font-size="4.2" text-anchor="middle" fill="#222" stroke="#222" stroke-width="0.09" >209</text>
<text x="809.20" y="252.51" font-size="4.2" text-anchor="middle" fill="#222" stroke="#222" stroke-width="0.09" >89</text>
<text x="611.10" y="257.40" font-size="4.2" text-anchor="start" fill="#222" stroke="#222" stroke-width="0.09" >Part-solid and solid, High</text>
<text x="665.70" y="257.41" font-size="4.2" text-anchor="middle" fill="#222" stroke="#222" stroke-width="0.09" >42</text>
<text x="694.40" y="257.41" font-size="4.2" text-anchor="middle" fill="#222" stroke="#222" stroke-width="0.09" >70</text>
<text x="723.10" y="257.41" font-size="4.2" text-anchor="middle" fill="#222" stroke="#222" stroke-width="0.09" >68</text>
<text x="751.80" y="257.41" font-size="4.2" text-anchor="middle" fill="#222" stroke="#222" stroke-width="0.09" >62</text>
<text x="780.50" y="257.41" font-size="4.2" text-anchor="middle" fill="#222" stroke="#222" stroke-width="0.09" >58</text>
<text x="809.20" y="257.41" font-size="4.2" text-anchor="middle" fill="#222" stroke="#222" stroke-width="0.09" >33</text>
<text x="739.60" y="277.00" font-size="4.2" text-anchor="middle" fill="#111" font-weight="bold" textLength="32.00" lengthAdjust="spacingAndGlyphs" stroke="#111" stroke-width="0.09" >Overall Survival</text>
<line x1="666.7" y1="283.60" x2="813.00" y2="283.60" stroke="#dedede" stroke-width="0.5"/>
<line x1="666.7" y1="299.22" x2="813.00" y2="299.22" stroke="#dedede" stroke-width="0.5"/>
<line x1="666.7" y1="314.84" x2="813.00" y2="314.84" stroke="#dedede" stroke-width="0.5"/>
<line x1="666.7" y1="330.46" x2="813.00" y2="330.46" stroke="#dedede" stroke-width="0.5"/>
<line x1="665.10" y1="283.60" x2="666.7" y2="283.60" stroke="#1a1a1a" stroke-width="0.5"/>
<text x="664.30" y="285.04" font-size="4.0" text-anchor="end" fill="#222" stroke="#222" stroke-width="0.09" >100</text>
<line x1="665.10" y1="299.22" x2="666.7" y2="299.22" stroke="#1a1a1a" stroke-width="0.5"/>
<text x="664.30" y="300.66" font-size="4.0" text-anchor="end" fill="#222" stroke="#222" stroke-width="0.09" >95</text>
<line x1="665.10" y1="314.84" x2="666.7" y2="314.84" stroke="#1a1a1a" stroke-width="0.5"/>
<text x="664.30" y="316.28" font-size="4.0" text-anchor="end" fill="#222" stroke="#222" stroke-width="0.09" >90</text>
<line x1="665.10" y1="330.46" x2="666.7" y2="330.46" stroke="#1a1a1a" stroke-width="0.5"/>
<text x="664.30" y="331.90" font-size="4.0" text-anchor="end" fill="#222" stroke="#222" stroke-width="0.09" >85</text>
<line x1="665.10" y1="346.08" x2="666.7" y2="346.08" stroke="#1a1a1a" stroke-width="0.5"/>
<text x="664.30" y="347.52" font-size="4.0" text-anchor="end" fill="#222" stroke="#222" stroke-width="0.09" >80</text>
<line x1="666.70" y1="346.08000000000004" x2="666.70" y2="347.58" stroke="#1a1a1a" stroke-width="0.5"/>
<text x="666.70" y="351.68" font-size="4.0" text-anchor="middle" fill="#222" stroke="#222" stroke-width="0.09" >0</text>
<line x1="693.20" y1="346.08000000000004" x2="693.20" y2="347.58" stroke="#1a1a1a" stroke-width="0.5"/>
<text x="693.20" y="351.68" font-size="4.0" text-anchor="middle" fill="#222" stroke="#222" stroke-width="0.09" >12</text>
<line x1="719.70" y1="346.08000000000004" x2="719.70" y2="347.58" stroke="#1a1a1a" stroke-width="0.5"/>
<text x="719.70" y="351.68" font-size="4.0" text-anchor="middle" fill="#222" stroke="#222" stroke-width="0.09" >24</text>
<line x1="746.20" y1="346.08000000000004" x2="746.20" y2="347.58" stroke="#1a1a1a" stroke-width="0.5"/>
<text x="746.20" y="351.68" font-size="4.0" text-anchor="middle" fill="#222" stroke="#222" stroke-width="0.09" >36</text>
<line x1="772.70" y1="346.08000000000004" x2="772.70" y2="347.58" stroke="#1a1a1a" stroke-width="0.5"/>
<text x="772.70" y="351.68" font-size="4.0" text-anchor="middle" fill="#222" stroke="#222" stroke-width="0.09" >48</text>
<line x1="799.20" y1="346.08000000000004" x2="799.20" y2="347.58" stroke="#1a1a1a" stroke-width="0.5"/>
<text x="799.20" y="351.68" font-size="4.0" text-anchor="middle" fill="#222" stroke="#222" stroke-width="0.09" >60</text>
<line x1="679.95" y1="346.08000000000004" x2="679.95" y2="346.98" stroke="#1a1a1a" stroke-width="0.4"/>
<line x1="706.45" y1="346.08000000000004" x2="706.45" y2="346.98" stroke="#1a1a1a" stroke-width="0.4"/>
<line x1="732.95" y1="346.08000000000004" x2="732.95" y2="346.98" stroke="#1a1a1a" stroke-width="0.4"/>
<line x1="759.45" y1="346.08000000000004" x2="759.45" y2="346.98" stroke="#1a1a1a" stroke-width="0.4"/>
<line x1="785.95" y1="346.08000000000004" x2="785.95" y2="346.98" stroke="#1a1a1a" stroke-width="0.4"/>
<line x1="812.45" y1="346.08000000000004" x2="812.45" y2="346.98" stroke="#1a1a1a" stroke-width="0.4"/>
<path d="M666.7 283.00V346.08000000000004H813.0" stroke="#1a1a1a" stroke-width="0.85" fill="none"/>
<text x="807.80" y="274.00" font-size="2.6" text-anchor="end" fill="#222" textLength="32.00" lengthAdjust="spacingAndGlyphs" stroke="#222" stroke-width="0.11" >RADS-2,3, High vs Low</text>
<text x="807.80" y="277.70" font-size="2.6" text-anchor="end" fill="#222" stroke="#222" stroke-width="0.11" >HR = 0.887</text>
<text x="807.80" y="281.30" font-size="2.6" text-anchor="end" fill="#222" font-style="italic" stroke="#222" stroke-width="0.11" >P = 0.794</text>
<path d="M666.70 283.60H700.00V284.20H740.00V284.50H762.50V284.70H813.00V284.70" stroke="#3f6ae0" stroke-width="0.6" fill="none" stroke-opacity="1.0"/>
<line x1="762.50" y1="284.70" x2="813.00" y2="284.70" stroke="#3f6ae0" stroke-width="1.15" stroke-opacity="0.8"/>
<path d="M666.70 283.60H813.00V283.60" stroke="#e9a23b" stroke-width="0.65" fill="none" stroke-opacity="1.0"/>
<path d="M672.60 282.90V283.88M679.80 282.90V283.88M687.00 282.90V283.88M694.20 282.90V283.88M701.40 282.90V283.88M708.60 282.90V283.88M715.80 282.90V283.88M723.00 282.90V283.88M730.20 282.90V283.88M737.40 282.90V283.88M744.60 282.90V283.88M751.80 282.90V283.88M759.00 282.90V283.88M766.20 282.90V283.88M773.40 282.90V283.88M780.60 282.90V283.88M787.80 282.90V283.88M795.00 282.90V283.88M802.20 282.90V283.88M809.40 282.90V283.88" stroke="#e9a23b" stroke-width="0.4" fill="none"/>
<path d="M666.70 283.60H675.00V284.40H690.00V285.40H695.80V286.70H700.00V288.00H704.00V289.70H712.00V290.60H722.00V291.70H730.00V292.40H736.00V293.00H748.00V293.60H758.00V294.20H802.20V298.90H813.00V298.90" stroke="#3f6ae0" stroke-width="0.6" fill="none" stroke-dasharray="1.0 0.5" stroke-opacity="1.0"/>
<line x1="762.00" y1="294.20" x2="802.20" y2="294.20" stroke="#3f6ae0" stroke-width="0.9" stroke-opacity="0.8"/>
<line x1="803.00" y1="298.90" x2="813.00" y2="298.90" stroke="#3f6ae0" stroke-width="1.1" stroke-opacity="0.8"/>
<path d="M666.70 283.60H697.20V292.50H703.30V300.80H775.00V312.00H799.40V332.00H811.00V332.00" stroke="#e9a23b" stroke-width="0.6" fill="none" stroke-dasharray="1.0 0.5" stroke-opacity="1.0"/>
<path d="M713.50 300.20V301.04M720.50 300.20V301.04M727.50 300.20V301.04M734.50 300.20V301.04M741.50 300.20V301.04M748.50 300.20V301.04M755.50 300.20V301.04M762.50 300.20V301.04M769.50 300.20V301.04" stroke="#e9a23b" stroke-width="0.4" fill="none"/>
<path d="M778.75 311.40V312.24M782.25 311.40V312.24M785.75 311.40V312.24M789.25 311.40V312.24M792.75 311.40V312.24M796.25 311.40V312.24" stroke="#e9a23b" stroke-width="0.4" fill="none"/>
<path d="M802.25 331.40V332.24M804.75 331.40V332.24M807.25 331.40V332.24M809.75 331.40V332.24" stroke="#e9a23b" stroke-width="0.4" fill="none"/>
<text x="797.20" y="321.00" font-size="2.6" text-anchor="end" fill="#222" textLength="29.50" lengthAdjust="spacingAndGlyphs" stroke="#222" stroke-width="0.11" >RADS-4, High vs Low</text>
<text x="797.20" y="324.60" font-size="2.6" text-anchor="end" fill="#222" stroke="#222" stroke-width="0.11" >HR = 3.019</text>
<text x="797.20" y="328.20" font-size="2.6" text-anchor="end" fill="#222" font-style="italic" stroke="#222" stroke-width="0.11" >P = 0.093</text>
<rect x="671.7" y="317.2" width="92.20" height="25.00" fill="#fff" stroke="#222" stroke-width="0.7"/>
<line x1="674.5" y1="320.8" x2="681.0" y2="320.8" stroke="#3f6ae0" stroke-width="0.55"/>
<line x1="677.75" y1="320.0" x2="677.75" y2="321.1" stroke="#3f6ae0" stroke-width="0.4"/>
<text x="684.00" y="321.74" font-size="2.6" text-anchor="start" fill="#333" stroke="#333" stroke-width="0.11" >RADS- 2,3, Low H3K27Me3</text>
<line x1="674.5" y1="326.4" x2="681.0" y2="326.4" stroke="#e9a23b" stroke-width="0.55"/>
<line x1="677.75" y1="325.59999999999997" x2="677.75" y2="326.7" stroke="#e9a23b" stroke-width="0.4"/>
<text x="684.00" y="327.34" font-size="2.6" text-anchor="start" fill="#333" stroke="#333" stroke-width="0.11" >RADS- 2,3, High H3K27Me3</text>
<line x1="674.5" y1="332.8" x2="681.0" y2="332.8" stroke="#3f6ae0" stroke-width="0.55" stroke-dasharray="0.8 0.5"/>
<line x1="677.75" y1="332.0" x2="677.75" y2="333.1" stroke="#3f6ae0" stroke-width="0.4"/>
<text x="684.00" y="333.74" font-size="2.6" text-anchor="start" fill="#333" stroke="#333" stroke-width="0.11" >RADS- 4, Low H3K27Me3</text>
<line x1="674.5" y1="338.9" x2="681.0" y2="338.9" stroke="#e9a23b" stroke-width="0.55" stroke-dasharray="0.8 0.5"/>
<line x1="677.75" y1="338.09999999999997" x2="677.75" y2="339.2" stroke="#e9a23b" stroke-width="0.4"/>
<text x="684.00" y="339.84" font-size="2.6" text-anchor="start" fill="#333" stroke="#333" stroke-width="0.11" >RADS- 4, High H3K27Me3</text>
<text x="745.30" y="329.80" font-size="2.9" text-anchor="middle" fill="#222" font-weight="bold" textLength="28.50" lengthAdjust="spacingAndGlyphs" stroke="#222" stroke-width="0.11" >Overall log-rank</text>
<text x="751.00" y="333.70" font-size="2.5" text-anchor="middle" fill="#333" font-style="italic" stroke="#333" stroke-width="0.11" >P = 0.002</text>
<text transform="translate(654.00 314.40) rotate(-90)" font-size="3.6" text-anchor="middle" fill="#222" stroke="#222" stroke-width="0.09">Survival, %</text>
<text x="739.70" y="358.10" font-size="4.2" text-anchor="middle" fill="#222" stroke="#222" stroke-width="0.09" >Months</text>
<text x="630.00" y="360.30" font-size="3.6" text-anchor="start" fill="#111" font-weight="bold" stroke="#111" stroke-width="0.09" >No. at risk</text>
<text x="630.00" y="364.85" font-size="3.8" text-anchor="start" fill="#222" stroke="#222" stroke-width="0.09" >RADS- 2, 3, Low</text>
<text x="666.70" y="364.87" font-size="3.8" text-anchor="middle" fill="#222" stroke="#222" stroke-width="0.09" >236</text>
<text x="693.20" y="364.87" font-size="3.8" text-anchor="middle" fill="#222" stroke="#222" stroke-width="0.09" >234</text>
<text x="719.70" y="364.87" font-size="3.8" text-anchor="middle" fill="#222" stroke="#222" stroke-width="0.09" >233</text>
<text x="746.20" y="364.87" font-size="3.8" text-anchor="middle" fill="#222" stroke="#222" stroke-width="0.09" >225</text>
<text x="772.70" y="364.87" font-size="3.8" text-anchor="middle" fill="#222" stroke="#222" stroke-width="0.09" >194</text>
<text x="799.20" y="364.87" font-size="3.8" text-anchor="middle" fill="#222" stroke="#222" stroke-width="0.09" >54</text>
<text x="630.00" y="369.65" font-size="3.8" text-anchor="start" fill="#222" stroke="#222" stroke-width="0.09" >RADS- 2, 3, High</text>
<text x="666.70" y="369.67" font-size="3.8" text-anchor="middle" fill="#222" stroke="#222" stroke-width="0.09" >44</text>
<text x="693.20" y="369.67" font-size="3.8" text-anchor="middle" fill="#222" stroke="#222" stroke-width="0.09" >44</text>
<text x="719.70" y="369.67" font-size="3.8" text-anchor="middle" fill="#222" stroke="#222" stroke-width="0.09" >44</text>
<text x="746.20" y="369.67" font-size="3.8" text-anchor="middle" fill="#222" stroke="#222" stroke-width="0.09" >44</text>
<text x="772.70" y="369.67" font-size="3.8" text-anchor="middle" fill="#222" stroke="#222" stroke-width="0.09" >41</text>
<text x="799.20" y="369.67" font-size="3.8" text-anchor="middle" fill="#222" stroke="#222" stroke-width="0.09" >19</text>
<text x="630.00" y="374.35" font-size="3.8" text-anchor="start" fill="#222" stroke="#222" stroke-width="0.09" >RADS- 4, Low</text>
<text x="666.70" y="374.37" font-size="3.8" text-anchor="middle" fill="#222" stroke="#222" stroke-width="0.09" >216</text>
<text x="693.20" y="374.37" font-size="3.8" text-anchor="middle" fill="#222" stroke="#222" stroke-width="0.09" >206</text>
<text x="719.70" y="374.37" font-size="3.8" text-anchor="middle" fill="#222" stroke="#222" stroke-width="0.09" >194</text>
<text x="746.20" y="374.37" font-size="3.8" text-anchor="middle" fill="#222" stroke="#222" stroke-width="0.09" >183</text>
<text x="772.70" y="374.37" font-size="3.8" text-anchor="middle" fill="#222" stroke="#222" stroke-width="0.09" >167</text>
<text x="799.20" y="374.37" font-size="3.8" text-anchor="middle" fill="#222" stroke="#222" stroke-width="0.09" >76</text>
<text x="630.00" y="378.95" font-size="3.8" text-anchor="start" fill="#222" stroke="#222" stroke-width="0.09" >RADS- 4, High</text>
<text x="666.70" y="378.97" font-size="3.8" text-anchor="middle" fill="#222" stroke="#222" stroke-width="0.09" >62</text>
<text x="693.20" y="378.97" font-size="3.8" text-anchor="middle" fill="#222" stroke="#222" stroke-width="0.09" >62</text>
<text x="719.70" y="378.97" font-size="3.8" text-anchor="middle" fill="#222" stroke="#222" stroke-width="0.09" >61</text>
<text x="746.20" y="378.97" font-size="3.8" text-anchor="middle" fill="#222" stroke="#222" stroke-width="0.09" >60</text>
<text x="772.70" y="378.97" font-size="3.8" text-anchor="middle" fill="#222" stroke="#222" stroke-width="0.09" >53</text>
<text x="799.20" y="378.97" font-size="3.8" text-anchor="middle" fill="#222" stroke="#222" stroke-width="0.09" >26</text>

</svg>
</body></html>
